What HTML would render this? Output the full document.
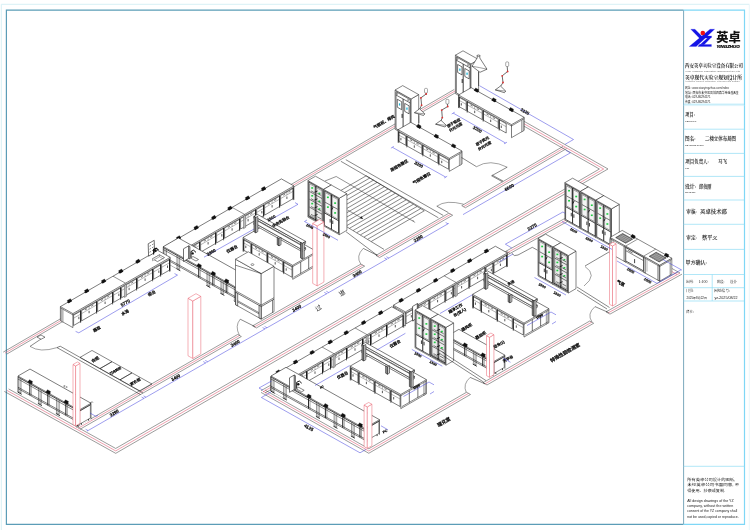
<!DOCTYPE html>
<html><head><meta charset="utf-8"><title>二楼立体布局图</title>
<style>
html,body{margin:0;padding:0;background:#fff;}
body{width:750px;height:530px;overflow:hidden;position:relative;font-family:"Liberation Sans","Noto Sans CJK SC",sans-serif;}
svg{position:absolute;left:0;top:0;display:block;will-change:transform;}
text{white-space:pre;}
</style></head><body>
<svg width="750" height="530" viewBox="0 0 750 530">
<rect x="0" y="0" width="750" height="530" fill="#fff"/>
<line x1="1.3" y1="4.3" x2="749.3" y2="4.3" stroke="#d3eef4" stroke-width="0.9"/>
<line x1="1.3" y1="4.3" x2="1.3" y2="530" stroke="#d3eef4" stroke-width="0.9"/>
<line x1="749.3" y1="4.3" x2="749.3" y2="530" stroke="#e6f5f9" stroke-width="0.9"/>
<polyline points="683.6,10.1 6.4,10.1 6.4,524.3 683.6,524.3" fill="none" stroke="#5b9db7" stroke-width="1.2"/>
<line x1="683.6" y1="10.1" x2="683.6" y2="524.3" stroke="#6d9fb5" stroke-width="0.9"/>
<polyline points="683.6,10.1 744.5,10.1 744.5,524.3 683.6,524.3" fill="none" stroke="#7fd7f6" stroke-width="1.2"/>
<polyline points="3.25,352.14 454.25,89.43" fill="none" stroke="#4a4a4a" stroke-width="0.55"/>
<polyline points="5,353.12 456,90.41" fill="none" stroke="#e0506a" stroke-width="0.55"/>
<polyline points="6.75,354.1 457.75,91.39" fill="none" stroke="#4a4a4a" stroke-width="0.55"/>
<polyline points="76.15,427.31 237.65,334.44" fill="none" stroke="#4a4a4a" stroke-width="0.55"/>
<polyline points="78,428.35 239.5,335.47" fill="none" stroke="#e0506a" stroke-width="0.55"/>
<polyline points="79.85,429.39 241.35,336.51" fill="none" stroke="#4a4a4a" stroke-width="0.55"/>
<line x1="237.65" y1="334.44" x2="241.35" y2="336.51" stroke="#4a4a4a" stroke-width="0.55"/>
<polyline points="252.65,325.88 360.95,264.07" fill="none" stroke="#4a4a4a" stroke-width="0.55"/>
<polyline points="254.5,326.91 362.8,265.11" fill="none" stroke="#e0506a" stroke-width="0.55"/>
<polyline points="256.35,327.95 364.65,266.15" fill="none" stroke="#4a4a4a" stroke-width="0.55"/>
<line x1="252.65" y1="325.88" x2="256.35" y2="327.95" stroke="#4a4a4a" stroke-width="0.55"/>
<line x1="360.95" y1="264.07" x2="364.65" y2="266.15" stroke="#4a4a4a" stroke-width="0.55"/>
<polyline points="375.95,255.4 448.95,213.16" fill="none" stroke="#4a4a4a" stroke-width="0.55"/>
<polyline points="377.8,256.43 450.8,214.2" fill="none" stroke="#e0506a" stroke-width="0.55"/>
<polyline points="379.65,257.47 452.65,215.24" fill="none" stroke="#4a4a4a" stroke-width="0.55"/>
<line x1="375.95" y1="255.4" x2="379.65" y2="257.47" stroke="#4a4a4a" stroke-width="0.55"/>
<line x1="448.95" y1="213.16" x2="452.65" y2="215.24" stroke="#4a4a4a" stroke-width="0.55"/>
<polyline points="461.75,205.67 562.95,146.46" fill="none" stroke="#4a4a4a" stroke-width="0.55"/>
<polyline points="463.6,206.71 564.8,147.5" fill="none" stroke="#e0506a" stroke-width="0.55"/>
<polyline points="465.45,207.75 566.65,148.54" fill="none" stroke="#4a4a4a" stroke-width="0.55"/>
<line x1="461.75" y1="205.67" x2="465.45" y2="207.75" stroke="#4a4a4a" stroke-width="0.55"/>
<polyline points="8.65,388.94 115.69,448.46 599.41,169.03 502.85,114.18" fill="none" stroke="#4a4a4a" stroke-width="0.55"/>
<polyline points="6.5,390.18 115.7,450.9 603.7,169 505,112.94" fill="none" stroke="#e0506a" stroke-width="0.55"/>
<polyline points="4.35,391.43 115.71,453.34 607.99,168.97 507.15,111.7" fill="none" stroke="#4a4a4a" stroke-width="0.55"/>
<polyline points="265,390.07 368.81,448.72 466.5,392.25" fill="none" stroke="#4a4a4a" stroke-width="0.55"/>
<polyline points="263,391.22 368.8,451 468.5,393.37" fill="none" stroke="#e0506a" stroke-width="0.55"/>
<polyline points="261,392.38 368.79,453.28 470.5,394.49" fill="none" stroke="#4a4a4a" stroke-width="0.55"/>
<line x1="466.5" y1="392.25" x2="470.5" y2="394.49" stroke="#4a4a4a" stroke-width="0.55"/>
<polyline points="483,382.72 589.7,321.04" fill="none" stroke="#4a4a4a" stroke-width="0.55"/>
<polyline points="485,383.84 591.7,322.16" fill="none" stroke="#e0506a" stroke-width="0.55"/>
<polyline points="487,384.96 593.7,323.28" fill="none" stroke="#4a4a4a" stroke-width="0.55"/>
<line x1="483" y1="382.72" x2="487" y2="384.96" stroke="#4a4a4a" stroke-width="0.55"/>
<line x1="589.7" y1="321.04" x2="593.7" y2="323.28" stroke="#4a4a4a" stroke-width="0.55"/>
<polyline points="606,311.88 678,271.88" fill="none" stroke="#4a4a4a" stroke-width="0.55"/>
<polyline points="608,313 680,273" fill="none" stroke="#e0506a" stroke-width="0.55"/>
<polyline points="610,314.12 682,274.12" fill="none" stroke="#4a4a4a" stroke-width="0.55"/>
<line x1="606" y1="311.88" x2="610" y2="314.12" stroke="#4a4a4a" stroke-width="0.55"/>
<line x1="683.6" y1="104.2" x2="744.5" y2="104.2" stroke="#8fdcf5" stroke-width="0.7"/>
<line x1="683.6" y1="129.2" x2="744.5" y2="129.2" stroke="#8fdcf5" stroke-width="0.7"/>
<line x1="683.6" y1="153.4" x2="744.5" y2="153.4" stroke="#8fdcf5" stroke-width="0.7"/>
<line x1="683.6" y1="176.4" x2="744.5" y2="176.4" stroke="#8fdcf5" stroke-width="0.7"/>
<line x1="683.6" y1="200" x2="744.5" y2="200" stroke="#8fdcf5" stroke-width="0.7"/>
<line x1="683.6" y1="224.3" x2="744.5" y2="224.3" stroke="#8fdcf5" stroke-width="0.7"/>
<line x1="683.6" y1="249.4" x2="744.5" y2="249.4" stroke="#8fdcf5" stroke-width="0.7"/>
<line x1="683.6" y1="274.5" x2="744.5" y2="274.5" stroke="#8fdcf5" stroke-width="0.7"/>
<line x1="683.6" y1="287.7" x2="744.5" y2="287.7" stroke="#8fdcf5" stroke-width="0.7"/>
<line x1="683.6" y1="301" x2="744.5" y2="301" stroke="#8fdcf5" stroke-width="0.7"/>
<line x1="683.6" y1="466.3" x2="744.5" y2="466.3" stroke="#8fdcf5" stroke-width="0.7"/>
<line x1="683.6" y1="105.6" x2="744.5" y2="105.6" stroke="#c5ecf8" stroke-width="0.6"/>
<line x1="712.2" y1="274.5" x2="712.2" y2="301" stroke="#8fdcf5" stroke-width="0.7"/>
<polygon points="690.8,29.2 694.96,29.2 702.4,36.64 700.24,39.04" fill="#1414e6" stroke="#1414e6" stroke-width="0.2"/>
<polygon points="710,29.2 714.64,29.2 696.24,46.56 689.2,46.56" fill="#1414e6" stroke="#1414e6" stroke-width="0.2"/>
<polygon points="704.24,36 711.44,36 710,38.08 702.96,38.08" fill="#1414e6" stroke="#1414e6" stroke-width="0.2"/>
<polygon points="707.44,38.08 711.44,36 711.44,37.2 704,44.8 700,44.8" fill="#1414e6" stroke="#1414e6" stroke-width="0.2"/>
<polygon points="699.44,44.48 711.44,44.48 711.44,46.56 697.84,46.56" fill="#1414e6" stroke="#1414e6" stroke-width="0.2"/>
<circle cx="702.8" cy="33" r="2.3" fill="#f01010"/>
<text x="716.2" y="42.2" font-size="12.2" fill="#111" text-anchor="start" font-weight="900" font-family="&quot;Liberation Sans&quot;,&quot;Noto Sans CJK SC&quot;,sans-serif" textLength="24.4" lengthAdjust="spacingAndGlyphs">英卓</text>
<text x="716.4" y="47.7" font-size="3.7" fill="#000" text-anchor="start" font-weight="bold" font-family="&quot;Liberation Sans&quot;,&quot;Noto Sans CJK SC&quot;,sans-serif" font-style="italic" textLength="23.2" lengthAdjust="spacingAndGlyphs" stroke="#000" stroke-width="0.2">YINGZHUO</text>
<text x="685" y="67.2" font-size="4.5" fill="#222" text-anchor="start" font-weight="bold" font-family="&quot;Liberation Serif&quot;,&quot;Noto Serif CJK SC&quot;,serif" textLength="58" lengthAdjust="spacingAndGlyphs">西安英卓实验室设备有限公司</text>
<text x="685" y="71.5" font-size="2.5" fill="#666" text-anchor="start" font-weight="normal" font-family="&quot;Liberation Sans&quot;,&quot;Noto Sans CJK SC&quot;,sans-serif" textLength="55" lengthAdjust="spacingAndGlyphs">Xi'an Yingzhuo Laboratory Equipment Co.,Ltd</text>
<text x="685" y="78.8" font-size="4.6" fill="#222" text-anchor="start" font-weight="bold" font-family="&quot;Liberation Serif&quot;,&quot;Noto Serif CJK SC&quot;,serif" textLength="57" lengthAdjust="spacingAndGlyphs">英卓现代实验室规划设计所</text>
<text x="685" y="82.2" font-size="2.4" fill="#777" text-anchor="start" font-weight="normal" font-family="&quot;Liberation Sans&quot;,&quot;Noto Sans CJK SC&quot;,sans-serif" textLength="54.5" lengthAdjust="spacingAndGlyphs">Yingzhuo Modern Laboratory Planning and Design</text>
<text x="685" y="89.2" font-size="2.9" fill="#333" text-anchor="start" font-weight="normal" font-family="&quot;Liberation Sans&quot;,&quot;Noto Sans CJK SC&quot;,sans-serif" textLength="44" lengthAdjust="spacingAndGlyphs">网址: www.xianyingzhuo.com/index</text>
<text x="685" y="93.6" font-size="2.9" fill="#222" text-anchor="start" font-weight="normal" font-family="&quot;Liberation Sans&quot;,&quot;Noto Sans CJK SC&quot;,sans-serif" textLength="53.5" lengthAdjust="spacingAndGlyphs">地址: 西安市未央区凤城四路华帝金座A座</text>
<text x="685" y="97.8" font-size="2.9" fill="#222" text-anchor="start" font-weight="normal" font-family="&quot;Liberation Sans&quot;,&quot;Noto Sans CJK SC&quot;,sans-serif" textLength="25.5" lengthAdjust="spacingAndGlyphs">电话: 029-86294571</text>
<text x="685" y="102.6" font-size="2.9" fill="#222" text-anchor="start" font-weight="normal" font-family="&quot;Liberation Sans&quot;,&quot;Noto Sans CJK SC&quot;,sans-serif" textLength="25.5" lengthAdjust="spacingAndGlyphs">传真: 029-86294571</text>
<text x="685.3" y="115.6" font-size="4.6" fill="#222" text-anchor="start" font-weight="500" font-family="&quot;Liberation Serif&quot;,&quot;Noto Serif CJK SC&quot;,serif" textLength="9.5" lengthAdjust="spacingAndGlyphs" stroke="#222" stroke-width="0.08">项目:</text>
<text x="685.3" y="121.6" font-size="2.6" fill="#222" text-anchor="start" font-weight="bold" font-family="&quot;Liberation Serif&quot;,&quot;Noto Serif CJK SC&quot;,serif" textLength="11" lengthAdjust="spacingAndGlyphs">PROJECT</text>
<text x="685" y="140" font-size="4.8" fill="#222" text-anchor="start" font-weight="500" font-family="&quot;Liberation Serif&quot;,&quot;Noto Serif CJK SC&quot;,serif" textLength="10.5" lengthAdjust="spacingAndGlyphs" stroke="#222" stroke-width="0.08">图名:</text>
<text x="705" y="140" font-size="4.4" fill="#222" text-anchor="start" font-weight="500" font-family="&quot;Liberation Serif&quot;,&quot;Noto Serif CJK SC&quot;,serif" textLength="31" lengthAdjust="spacingAndGlyphs" stroke="#222" stroke-width="0.08">二楼立体布局图</text>
<text x="685" y="145.8" font-size="2.6" fill="#222" text-anchor="start" font-weight="bold" font-family="&quot;Liberation Serif&quot;,&quot;Noto Serif CJK SC&quot;,serif" textLength="19" lengthAdjust="spacingAndGlyphs">DRAWING TITLE</text>
<text x="685.3" y="162.6" font-size="4.6" fill="#222" text-anchor="start" font-weight="500" font-family="&quot;Liberation Serif&quot;,&quot;Noto Serif CJK SC&quot;,serif" textLength="23.5" lengthAdjust="spacingAndGlyphs" stroke="#222" stroke-width="0.08">项目负责人:</text>
<text x="718" y="162.6" font-size="4.6" fill="#222" text-anchor="start" font-weight="500" font-family="&quot;Liberation Serif&quot;,&quot;Noto Serif CJK SC&quot;,serif" textLength="9" lengthAdjust="spacingAndGlyphs" stroke="#222" stroke-width="0.08">马飞</text>
<text x="685.3" y="168.6" font-size="2.6" fill="#222" text-anchor="start" font-weight="bold" font-family="&quot;Liberation Serif&quot;,&quot;Noto Serif CJK SC&quot;,serif" textLength="3.5" lengthAdjust="spacingAndGlyphs">PM</text>
<text x="685" y="187.5" font-size="4.8" fill="#222" text-anchor="start" font-weight="500" font-family="&quot;Liberation Serif&quot;,&quot;Noto Serif CJK SC&quot;,serif" textLength="11" lengthAdjust="spacingAndGlyphs" stroke="#222" stroke-width="0.08">设计:</text>
<text x="699" y="187.5" font-size="4.4" fill="#222" text-anchor="start" font-weight="500" font-family="&quot;Liberation Serif&quot;,&quot;Noto Serif CJK SC&quot;,serif" textLength="12.5" lengthAdjust="spacingAndGlyphs" stroke="#222" stroke-width="0.08">郎俊丽</text>
<text x="685.3" y="193.4" font-size="2.6" fill="#222" text-anchor="start" font-weight="bold" font-family="&quot;Liberation Serif&quot;,&quot;Noto Serif CJK SC&quot;,serif" textLength="10" lengthAdjust="spacingAndGlyphs">DESIGN</text>
<text x="686.3" y="213.2" font-size="4.3" fill="#222" text-anchor="start" font-weight="500" font-family="&quot;Liberation Serif&quot;,&quot;Noto Serif CJK SC&quot;,serif" textLength="10.5" lengthAdjust="spacingAndGlyphs" stroke="#222" stroke-width="0.08">审核:</text>
<text x="700" y="213.2" font-size="4.3" fill="#222" text-anchor="start" font-weight="500" font-family="&quot;Liberation Serif&quot;,&quot;Noto Serif CJK SC&quot;,serif" textLength="27" lengthAdjust="spacingAndGlyphs" stroke="#222" stroke-width="0.08">英卓技术部</text>
<text x="686.3" y="239.4" font-size="4.3" fill="#222" text-anchor="start" font-weight="500" font-family="&quot;Liberation Serif&quot;,&quot;Noto Serif CJK SC&quot;,serif" textLength="10.5" lengthAdjust="spacingAndGlyphs" stroke="#222" stroke-width="0.08">审定:</text>
<text x="702" y="239.4" font-size="4.3" fill="#222" text-anchor="start" font-weight="500" font-family="&quot;Liberation Serif&quot;,&quot;Noto Serif CJK SC&quot;,serif" textLength="15.5" lengthAdjust="spacingAndGlyphs" stroke="#222" stroke-width="0.08">蔡平义</text>
<text x="685.5" y="263.6" font-size="4.4" fill="#222" text-anchor="start" font-weight="500" font-family="&quot;Liberation Serif&quot;,&quot;Noto Serif CJK SC&quot;,serif" textLength="21.5" lengthAdjust="spacingAndGlyphs" stroke="#222" stroke-width="0.08">甲方确认:</text>
<text x="686" y="283" font-size="3.4" fill="#222" text-anchor="start" font-weight="500" font-family="&quot;Liberation Serif&quot;,&quot;Noto Serif CJK SC&quot;,serif" textLength="7.5" lengthAdjust="spacingAndGlyphs">比例:</text>
<text x="698.5" y="283" font-size="3.2" fill="#222" text-anchor="start" font-weight="normal" font-family="&quot;Liberation Serif&quot;,&quot;Noto Serif CJK SC&quot;,serif" textLength="9" lengthAdjust="spacingAndGlyphs">1:100</text>
<text x="717" y="283" font-size="3.4" fill="#222" text-anchor="start" font-weight="500" font-family="&quot;Liberation Serif&quot;,&quot;Noto Serif CJK SC&quot;,serif" textLength="7.5" lengthAdjust="spacingAndGlyphs">阶段:</text>
<text x="730" y="283" font-size="3.4" fill="#222" text-anchor="start" font-weight="500" font-family="&quot;Liberation Serif&quot;,&quot;Noto Serif CJK SC&quot;,serif" textLength="7" lengthAdjust="spacingAndGlyphs">设计</text>
<text x="686" y="292.4" font-size="3.4" fill="#222" text-anchor="start" font-weight="500" font-family="&quot;Liberation Serif&quot;,&quot;Noto Serif CJK SC&quot;,serif" textLength="7.5" lengthAdjust="spacingAndGlyphs">日期:</text>
<text x="714" y="292.4" font-size="3.4" fill="#222" text-anchor="start" font-weight="500" font-family="&quot;Liberation Serif&quot;,&quot;Noto Serif CJK SC&quot;,serif" textLength="16" lengthAdjust="spacingAndGlyphs">图纸编号:</text>
<text x="686.5" y="298.6" font-size="2.7" fill="#222" text-anchor="start" font-weight="normal" font-family="&quot;Liberation Sans&quot;,&quot;Noto Sans CJK SC&quot;,sans-serif" textLength="20.5" lengthAdjust="spacingAndGlyphs">2025年8月22日</text>
<text x="714.5" y="298.6" font-size="2.7" fill="#222" text-anchor="start" font-weight="normal" font-family="&quot;Liberation Sans&quot;,&quot;Noto Sans CJK SC&quot;,sans-serif" textLength="23" lengthAdjust="spacingAndGlyphs">yz-2025/08/22</text>
<text x="686" y="312.6" font-size="3.4" fill="#222" text-anchor="start" font-weight="500" font-family="&quot;Liberation Serif&quot;,&quot;Noto Serif CJK SC&quot;,serif" textLength="8" lengthAdjust="spacingAndGlyphs">备注:</text>
<text x="687.2" y="480.8" font-size="3.9" fill="#222" text-anchor="start" font-weight="normal" font-family="&quot;Liberation Sans&quot;,&quot;Noto Sans CJK SC&quot;,sans-serif" textLength="48" lengthAdjust="spacingAndGlyphs">所有英卓公司设计的图纸,</text>
<text x="687.2" y="486.4" font-size="3.9" fill="#222" text-anchor="start" font-weight="normal" font-family="&quot;Liberation Sans&quot;,&quot;Noto Sans CJK SC&quot;,sans-serif" textLength="52" lengthAdjust="spacingAndGlyphs">未经英卓公司书面同意, 不</text>
<text x="687.2" y="492" font-size="3.9" fill="#222" text-anchor="start" font-weight="normal" font-family="&quot;Liberation Sans&quot;,&quot;Noto Sans CJK SC&quot;,sans-serif" textLength="38" lengthAdjust="spacingAndGlyphs">得使用、抄袭或复制.</text>
<text x="687.2" y="501.6" font-size="3.5" fill="#222" text-anchor="start" font-weight="normal" font-family="&quot;Liberation Sans&quot;,&quot;Noto Sans CJK SC&quot;,sans-serif" textLength="46.5" lengthAdjust="spacingAndGlyphs">All design drawings of the YZ</text>
<text x="687.2" y="506.9" font-size="3.5" fill="#222" text-anchor="start" font-weight="normal" font-family="&quot;Liberation Sans&quot;,&quot;Noto Sans CJK SC&quot;,sans-serif" textLength="46" lengthAdjust="spacingAndGlyphs">company, without the written</text>
<text x="687.2" y="512.2" font-size="3.5" fill="#222" text-anchor="start" font-weight="normal" font-family="&quot;Liberation Sans&quot;,&quot;Noto Sans CJK SC&quot;,sans-serif" textLength="50" lengthAdjust="spacingAndGlyphs">consent of the YZ company shall</text>
<text x="687.2" y="517.5" font-size="3.5" fill="#222" text-anchor="start" font-weight="normal" font-family="&quot;Liberation Sans&quot;,&quot;Noto Sans CJK SC&quot;,sans-serif" textLength="51.5" lengthAdjust="spacingAndGlyphs">not be used,copied or reproduce.</text>
<line x1="366.2" y1="175.8" x2="313.2" y2="206.43" stroke="#111" stroke-width="0.5"/>
<line x1="369.83" y1="177.99" x2="316.83" y2="208.62" stroke="#111" stroke-width="0.5"/>
<line x1="373.46" y1="180.18" x2="320.46" y2="210.81" stroke="#111" stroke-width="0.5"/>
<line x1="377.09" y1="182.36" x2="324.09" y2="213" stroke="#111" stroke-width="0.5"/>
<line x1="380.73" y1="184.55" x2="327.73" y2="215.18" stroke="#111" stroke-width="0.5"/>
<line x1="384.36" y1="186.74" x2="331.36" y2="217.37" stroke="#111" stroke-width="0.5"/>
<line x1="387.99" y1="188.93" x2="334.99" y2="219.56" stroke="#111" stroke-width="0.5"/>
<line x1="391.62" y1="191.11" x2="338.62" y2="221.75" stroke="#111" stroke-width="0.5"/>
<line x1="395.25" y1="193.3" x2="342.25" y2="223.93" stroke="#111" stroke-width="0.5"/>
<line x1="398.88" y1="195.49" x2="345.88" y2="226.12" stroke="#111" stroke-width="0.5"/>
<line x1="402.51" y1="197.68" x2="349.51" y2="228.31" stroke="#111" stroke-width="0.5"/>
<line x1="406.14" y1="199.86" x2="353.14" y2="230.5" stroke="#111" stroke-width="0.5"/>
<line x1="409.77" y1="202.05" x2="356.77" y2="232.68" stroke="#111" stroke-width="0.5"/>
<line x1="413.41" y1="204.24" x2="360.41" y2="234.87" stroke="#111" stroke-width="0.5"/>
<line x1="417.04" y1="206.43" x2="364.04" y2="237.06" stroke="#111" stroke-width="0.5"/>
<line x1="420.67" y1="208.61" x2="367.67" y2="239.25" stroke="#111" stroke-width="0.5"/>
<line x1="424.3" y1="210.8" x2="371.3" y2="241.43" stroke="#111" stroke-width="0.5"/>
<line x1="366.2" y1="175.8" x2="424.3" y2="210.8" stroke="#111" stroke-width="0.5"/>
<line x1="313.2" y1="206.43" x2="384" y2="249.4" stroke="#111" stroke-width="0.5"/>
<line x1="340.9" y1="161.3" x2="438.4" y2="217.8" stroke="#111" stroke-width="0.5"/>
<line x1="345.8" y1="159.7" x2="443.2" y2="215.4" stroke="#111" stroke-width="0.5"/>
<line x1="325" y1="181" x2="336.2" y2="176.5" stroke="#111" stroke-width="0.45"/>
<line x1="336.2" y1="176.5" x2="413.6" y2="221.5" stroke="#111" stroke-width="0.45"/>
<line x1="412.6" y1="220" x2="414.8" y2="222.6" stroke="#111" stroke-width="0.5"/>
<line x1="347.5" y1="210" x2="362.7" y2="218.6" stroke="#111" stroke-width="0.45"/>
<polygon points="362.7,218.6 360.3,218.3 361.3,216.6" fill="#111" stroke="#111" stroke-width="0.4"/>
<line x1="346" y1="231.7" x2="377.3" y2="255.4" stroke="#111" stroke-width="0.5"/>
<line x1="377.3" y1="255.4" x2="363.3" y2="248.4" stroke="#111" stroke-width="0.5"/>
<path d="M363.3,248.4 Q355.5,256 360.8,264.2" fill="none" stroke="#444" stroke-width="0.5"/>
<line x1="448.4" y1="212.6" x2="436.8" y2="206.2" stroke="#111" stroke-width="0.5"/>
<path d="M436.8,206.2 Q446,199.5 463.6,204.2" fill="none" stroke="#444" stroke-width="0.5"/>
<line x1="57" y1="347.6" x2="140.5" y2="394.6" stroke="#111" stroke-width="0.5"/>
<line x1="60.2" y1="346.2" x2="143" y2="393" stroke="#111" stroke-width="0.5"/>
<line x1="57" y1="347.6" x2="60.2" y2="346.2" stroke="#111" stroke-width="0.5"/>
<line x1="41" y1="339" x2="30" y2="346.4" stroke="#111" stroke-width="0.5"/>
<polygon points="37,337 41,335 45,337.2 41,339.3" fill="none" stroke="#111" stroke-width="0.5"/>
<path d="M30,346.4 Q40,353 57,347.6" fill="none" stroke="#444" stroke-width="0.5"/>
<polygon points="80,357.4 92,350.46 112,361.66 100,368.6" fill="none" stroke="#111" stroke-width="0.5"/>
<polygon points="100,368.6 112,361.66 132,372.86 120,379.8" fill="none" stroke="#111" stroke-width="0.5"/>
<polygon points="120,379.8 132,372.86 152,384.06 140,391" fill="none" stroke="#111" stroke-width="0.5"/>
<text x="96" y="360.67" font-size="4" fill="#000" text-anchor="middle" font-weight="bold" font-family="&quot;Liberation Sans&quot;,&quot;Noto Sans CJK SC&quot;,sans-serif" transform="rotate(-30.03 96 360.67)" stroke="#000" stroke-width="0.18">衣柜</text>
<text x="116" y="371.87" font-size="3.2" fill="#000" text-anchor="middle" font-weight="bold" font-family="&quot;Liberation Sans&quot;,&quot;Noto Sans CJK SC&quot;,sans-serif" transform="rotate(-30.03 116 371.87)" stroke="#000" stroke-width="0.18">万向轮柜</text>
<text x="136" y="383.07" font-size="3.8" fill="#000" text-anchor="middle" font-weight="bold" font-family="&quot;Liberation Sans&quot;,&quot;Noto Sans CJK SC&quot;,sans-serif" transform="rotate(-30.03 136 383.07)" stroke="#000" stroke-width="0.18">更衣柜</text>
<polygon points="163.4,261.1 175.9,268.1 293.9,199.9 293.9,185.9 281.4,178.9 163.4,247.1" fill="#fff" stroke="none" stroke-width="0"/>
<polygon points="163.4,247.1 175.9,254.1 293.9,185.9 281.4,178.9" fill="none" stroke="#111" stroke-width="0.55"/>
<line x1="163.4" y1="261.1" x2="163.4" y2="247.1" stroke="#111" stroke-width="0.55"/>
<line x1="175.9" y1="268.1" x2="175.9" y2="254.1" stroke="#111" stroke-width="0.55"/>
<line x1="293.9" y1="199.9" x2="293.9" y2="185.9" stroke="#111" stroke-width="0.55"/>
<line x1="163.4" y1="261.1" x2="175.9" y2="268.1" stroke="#111" stroke-width="0.5"/>
<line x1="175.9" y1="255.4" x2="293.9" y2="187.2" stroke="#111" stroke-width="0.5"/>
<line x1="163.4" y1="248.4" x2="175.9" y2="255.4" stroke="#111" stroke-width="0.5"/>
<polygon points="176.6,266 183.6,261.95 183.6,251.65 176.6,255.7" fill="none" stroke="#111" stroke-width="0.55"/>
<line x1="176.6" y1="258.7" x2="183.6" y2="254.65" stroke="#444" stroke-width="0.4"/>
<line x1="181.85" y1="257.26" x2="181.85" y2="259.66" stroke="#111" stroke-width="0.7"/>
<line x1="183.6" y1="262.15" x2="183.6" y2="251.05" stroke="#111" stroke-width="0.9"/>
<line x1="183.6" y1="261.95" x2="183.6" y2="263.45" stroke="#111" stroke-width="0.6"/>
<polygon points="184.6,261.37 199.6,252.7 199.6,242.4 184.6,251.07" fill="none" stroke="#111" stroke-width="0.55"/>
<line x1="184.6" y1="254.07" x2="199.6" y2="245.4" stroke="#444" stroke-width="0.4"/>
<line x1="192.1" y1="251.34" x2="192.1" y2="253.74" stroke="#111" stroke-width="0.7"/>
<line x1="187.9" y1="250.46" x2="190" y2="249.25" stroke="#111" stroke-width="0.55"/>
<line x1="194.2" y1="246.82" x2="196.3" y2="245.61" stroke="#111" stroke-width="0.55"/>
<line x1="192.1" y1="246.74" x2="192.1" y2="249.74" stroke="#444" stroke-width="0.4"/>
<line x1="199.6" y1="252.9" x2="199.6" y2="241.8" stroke="#111" stroke-width="0.9"/>
<line x1="199.6" y1="252.7" x2="199.6" y2="254.2" stroke="#111" stroke-width="0.6"/>
<polygon points="200.6,252.12 215.6,243.45 215.6,233.15 200.6,241.82" fill="none" stroke="#111" stroke-width="0.55"/>
<line x1="200.6" y1="244.82" x2="215.6" y2="236.15" stroke="#444" stroke-width="0.4"/>
<line x1="208.1" y1="242.09" x2="208.1" y2="244.49" stroke="#111" stroke-width="0.7"/>
<line x1="203.9" y1="241.22" x2="206" y2="240" stroke="#111" stroke-width="0.55"/>
<line x1="210.2" y1="237.57" x2="212.3" y2="236.36" stroke="#111" stroke-width="0.55"/>
<line x1="208.1" y1="237.49" x2="208.1" y2="240.49" stroke="#444" stroke-width="0.4"/>
<line x1="215.6" y1="243.65" x2="215.6" y2="232.55" stroke="#111" stroke-width="0.9"/>
<line x1="215.6" y1="243.45" x2="215.6" y2="244.95" stroke="#111" stroke-width="0.6"/>
<polygon points="216.6,242.88 223.6,238.83 223.6,228.53 216.6,232.58" fill="none" stroke="#111" stroke-width="0.55"/>
<line x1="216.6" y1="235.58" x2="223.6" y2="231.53" stroke="#444" stroke-width="0.4"/>
<line x1="221.85" y1="234.14" x2="221.85" y2="236.54" stroke="#111" stroke-width="0.7"/>
<line x1="223.6" y1="239.03" x2="223.6" y2="227.93" stroke="#111" stroke-width="0.9"/>
<line x1="223.6" y1="238.83" x2="223.6" y2="240.33" stroke="#111" stroke-width="0.6"/>
<polygon points="224.6,238.25 239.6,229.58 239.6,219.28 224.6,227.95" fill="none" stroke="#111" stroke-width="0.55"/>
<line x1="224.6" y1="230.95" x2="239.6" y2="222.28" stroke="#444" stroke-width="0.4"/>
<line x1="232.1" y1="228.22" x2="232.1" y2="230.62" stroke="#111" stroke-width="0.7"/>
<line x1="227.9" y1="227.34" x2="230" y2="226.13" stroke="#111" stroke-width="0.55"/>
<line x1="234.2" y1="223.7" x2="236.3" y2="222.49" stroke="#111" stroke-width="0.55"/>
<line x1="232.1" y1="223.62" x2="232.1" y2="226.62" stroke="#444" stroke-width="0.4"/>
<line x1="239.6" y1="229.78" x2="239.6" y2="218.68" stroke="#111" stroke-width="0.9"/>
<line x1="239.6" y1="229.58" x2="239.6" y2="231.08" stroke="#111" stroke-width="0.6"/>
<polygon points="240.6,229 255.6,220.33 255.6,210.03 240.6,218.7" fill="none" stroke="#111" stroke-width="0.55"/>
<line x1="240.6" y1="221.7" x2="255.6" y2="213.03" stroke="#444" stroke-width="0.4"/>
<line x1="248.1" y1="218.97" x2="248.1" y2="221.37" stroke="#111" stroke-width="0.7"/>
<line x1="243.9" y1="218.1" x2="246" y2="216.88" stroke="#111" stroke-width="0.55"/>
<line x1="250.2" y1="214.45" x2="252.3" y2="213.24" stroke="#111" stroke-width="0.55"/>
<line x1="248.1" y1="214.37" x2="248.1" y2="217.37" stroke="#444" stroke-width="0.4"/>
<line x1="255.6" y1="220.53" x2="255.6" y2="209.43" stroke="#111" stroke-width="0.9"/>
<line x1="255.6" y1="220.33" x2="255.6" y2="221.83" stroke="#111" stroke-width="0.6"/>
<polygon points="256.6,219.76 263.6,215.71 263.6,205.41 256.6,209.46" fill="none" stroke="#111" stroke-width="0.55"/>
<line x1="256.6" y1="212.46" x2="263.6" y2="208.41" stroke="#444" stroke-width="0.4"/>
<line x1="261.85" y1="211.02" x2="261.85" y2="213.42" stroke="#111" stroke-width="0.7"/>
<line x1="263.6" y1="215.91" x2="263.6" y2="204.81" stroke="#111" stroke-width="0.9"/>
<line x1="263.6" y1="215.71" x2="263.6" y2="217.21" stroke="#111" stroke-width="0.6"/>
<polygon points="264.6,215.13 279.6,206.46 279.6,196.16 264.6,204.83" fill="none" stroke="#111" stroke-width="0.55"/>
<line x1="264.6" y1="207.83" x2="279.6" y2="199.16" stroke="#444" stroke-width="0.4"/>
<line x1="272.1" y1="205.1" x2="272.1" y2="207.5" stroke="#111" stroke-width="0.7"/>
<line x1="267.9" y1="204.22" x2="270" y2="203.01" stroke="#111" stroke-width="0.55"/>
<line x1="274.2" y1="200.58" x2="276.3" y2="199.37" stroke="#111" stroke-width="0.55"/>
<line x1="272.1" y1="200.5" x2="272.1" y2="203.5" stroke="#444" stroke-width="0.4"/>
<line x1="279.6" y1="206.66" x2="279.6" y2="195.56" stroke="#111" stroke-width="0.9"/>
<line x1="279.6" y1="206.46" x2="279.6" y2="207.96" stroke="#111" stroke-width="0.6"/>
<polygon points="280.6,205.88 293.2,198.6 293.2,188.3 280.6,195.58" fill="none" stroke="#111" stroke-width="0.55"/>
<line x1="280.6" y1="198.58" x2="293.2" y2="191.3" stroke="#444" stroke-width="0.4"/>
<line x1="286.9" y1="196.54" x2="286.9" y2="198.94" stroke="#111" stroke-width="0.7"/>
<line x1="283.37" y1="195.28" x2="285.14" y2="194.26" stroke="#111" stroke-width="0.55"/>
<line x1="288.66" y1="192.22" x2="290.43" y2="191.2" stroke="#111" stroke-width="0.55"/>
<line x1="286.9" y1="191.94" x2="286.9" y2="194.94" stroke="#444" stroke-width="0.4"/>
<line x1="293.2" y1="198.8" x2="293.2" y2="187.7" stroke="#111" stroke-width="0.9"/>
<line x1="293.2" y1="198.6" x2="293.2" y2="200.1" stroke="#111" stroke-width="0.6"/>
<polygon points="164.2,261.55 164.2,248.85 166,249.86 166,262.56" fill="#ddd" stroke="#444" stroke-width="0.45"/>
<line x1="232.1" y1="207.39" x2="244.6" y2="214.39" stroke="#111" stroke-width="0.45"/>
<polygon points="243.5,228.73 245.7,227.46 245.7,215.06 243.5,216.33" fill="#bbb" stroke="#444" stroke-width="0.4"/>
<polygon points="176.3,239.07 179.5,237.23 180.9,238.01 177.7,239.86" fill="#111" stroke="#111" stroke-width="0.3"/>
<polygon points="176.3,237.47 179.5,235.63 180.9,238.01 177.7,239.86" fill="#111" stroke="#111" stroke-width="0.3"/>
<polygon points="193.9,228.9 197.1,227.05 198.5,227.84 195.3,229.69" fill="#111" stroke="#111" stroke-width="0.3"/>
<polygon points="193.9,227.3 197.1,225.45 198.5,227.84 195.3,229.69" fill="#111" stroke="#111" stroke-width="0.3"/>
<polygon points="211.5,218.73 214.7,216.88 216.1,217.66 212.9,219.51" fill="#111" stroke="#111" stroke-width="0.3"/>
<polygon points="211.5,217.13 214.7,215.28 216.1,217.66 212.9,219.51" fill="#111" stroke="#111" stroke-width="0.3"/>
<polygon points="227.6,209.42 230.8,207.57 232.2,208.36 229,210.21" fill="#111" stroke="#111" stroke-width="0.3"/>
<polygon points="227.6,207.82 230.8,205.97 232.2,208.36 229,210.21" fill="#111" stroke="#111" stroke-width="0.3"/>
<polygon points="245.2,199.25 248.4,197.4 249.8,198.19 246.6,200.03" fill="#111" stroke="#111" stroke-width="0.3"/>
<polygon points="245.2,197.65 248.4,195.8 249.8,198.19 246.6,200.03" fill="#111" stroke="#111" stroke-width="0.3"/>
<polygon points="261.3,189.94 264.5,188.1 265.9,188.88 262.7,190.73" fill="#111" stroke="#111" stroke-width="0.3"/>
<polygon points="261.3,188.34 264.5,186.5 265.9,188.88 262.7,190.73" fill="#111" stroke="#111" stroke-width="0.3"/>
<polygon points="163.4,261.1 238.4,303.1 253.4,294.43 253.4,279.93 178.4,237.93 163.4,246.6" fill="#fff" stroke="none" stroke-width="0"/>
<polygon points="163.4,246.6 238.4,288.6 253.4,279.93 178.4,237.93" fill="none" stroke="#111" stroke-width="0.55"/>
<line x1="163.4" y1="261.1" x2="163.4" y2="246.6" stroke="#111" stroke-width="0.55"/>
<line x1="238.4" y1="303.1" x2="238.4" y2="288.6" stroke="#111" stroke-width="0.55"/>
<line x1="253.4" y1="294.43" x2="253.4" y2="279.93" stroke="#111" stroke-width="0.55"/>
<polygon points="239,301.15 252.8,293.18 252.8,281.58 239,289.55" fill="#fff" stroke="#111" stroke-width="0.5"/>
<line x1="240.8" y1="301.71" x2="240.8" y2="300.11" stroke="#111" stroke-width="0.8"/>
<line x1="251" y1="295.82" x2="251" y2="294.22" stroke="#111" stroke-width="0.8"/>
<line x1="163.4" y1="247.7" x2="238.4" y2="289.7" stroke="#111" stroke-width="0.8"/>
<line x1="238.4" y1="289.7" x2="253.4" y2="281.03" stroke="#111" stroke-width="0.6"/>
<polygon points="163.7,260.47 166.5,262.04 166.5,249.64 163.7,248.07" fill="#d4d4d4" stroke="#444" stroke-width="0.45"/>
<line x1="163.1" y1="261.13" x2="167.1" y2="263.37" stroke="#111" stroke-width="0.9"/>
<polygon points="176.9,267.86 179.7,269.43 179.7,257.03 176.9,255.46" fill="#d4d4d4" stroke="#444" stroke-width="0.45"/>
<line x1="176.3" y1="268.52" x2="180.3" y2="270.76" stroke="#111" stroke-width="0.9"/>
<polygon points="206.9,284.66 209.7,286.23 209.7,273.83 206.9,272.26" fill="#d4d4d4" stroke="#444" stroke-width="0.45"/>
<line x1="206.3" y1="285.32" x2="210.3" y2="287.56" stroke="#111" stroke-width="0.9"/>
<polygon points="220.9,292.5 223.7,294.07 223.7,281.67 220.9,280.1" fill="#d4d4d4" stroke="#444" stroke-width="0.45"/>
<line x1="220.3" y1="293.16" x2="224.3" y2="295.4" stroke="#111" stroke-width="0.9"/>
<polygon points="234.4,300.06 237.2,301.63 237.2,289.23 234.4,287.66" fill="#d4d4d4" stroke="#444" stroke-width="0.45"/>
<line x1="233.8" y1="300.72" x2="237.8" y2="302.96" stroke="#111" stroke-width="0.9"/>
<line x1="163.4" y1="249.6" x2="238.4" y2="291.6" stroke="#111" stroke-width="0.5"/>
<line x1="163.4" y1="257.7" x2="238.4" y2="299.7" stroke="#111" stroke-width="0.55"/>
<line x1="163.4" y1="256.3" x2="238.4" y2="298.3" stroke="#111" stroke-width="0.55"/>
<line x1="198.7" y1="267.57" x2="198.7" y2="277.47" stroke="#111" stroke-width="0.9"/>
<line x1="200.2" y1="268.41" x2="200.2" y2="278.31" stroke="#444" stroke-width="0.5"/>
<polygon points="196.9,265.82 200.1,267.61 201.5,266.8 198.3,265.01" fill="#111" stroke="#111" stroke-width="0.3"/>
<polygon points="198.3,263.41 201.5,265.2 200.1,267.61 196.9,265.82" fill="#111" stroke="#111" stroke-width="0.3"/>
<line x1="212.8" y1="275.46" x2="212.8" y2="285.36" stroke="#111" stroke-width="0.9"/>
<line x1="214.3" y1="276.3" x2="214.3" y2="286.2" stroke="#444" stroke-width="0.5"/>
<polygon points="211,273.71 214.2,275.5 215.6,274.69 212.4,272.9" fill="#111" stroke="#111" stroke-width="0.3"/>
<polygon points="212.4,271.3 215.6,273.09 214.2,275.5 211,273.71" fill="#111" stroke="#111" stroke-width="0.3"/>
<line x1="226.2" y1="282.97" x2="226.2" y2="292.87" stroke="#111" stroke-width="0.9"/>
<line x1="227.7" y1="283.81" x2="227.7" y2="293.71" stroke="#444" stroke-width="0.5"/>
<polygon points="224.4,281.22 227.6,283.01 229,282.2 225.8,280.41" fill="#111" stroke="#111" stroke-width="0.3"/>
<polygon points="225.8,278.81 229,280.6 227.6,283.01 224.4,281.22" fill="#111" stroke="#111" stroke-width="0.3"/>
<polygon points="60.4,320.6 72.9,327.6 170.2,271.36 170.2,257.36 157.7,250.36 60.4,306.6" fill="#fff" stroke="none" stroke-width="0"/>
<polygon points="60.4,306.6 72.9,313.6 170.2,257.36 157.7,250.36" fill="none" stroke="#111" stroke-width="0.55"/>
<line x1="60.4" y1="320.6" x2="60.4" y2="306.6" stroke="#111" stroke-width="0.55"/>
<line x1="72.9" y1="327.6" x2="72.9" y2="313.6" stroke="#111" stroke-width="0.55"/>
<line x1="170.2" y1="271.36" x2="170.2" y2="257.36" stroke="#111" stroke-width="0.55"/>
<line x1="60.4" y1="320.6" x2="72.9" y2="327.6" stroke="#111" stroke-width="0.5"/>
<line x1="72.9" y1="314.9" x2="170.2" y2="258.66" stroke="#111" stroke-width="0.5"/>
<line x1="60.4" y1="307.9" x2="72.9" y2="314.9" stroke="#111" stroke-width="0.5"/>
<polygon points="73.6,325.5 80.6,321.45 80.6,311.15 73.6,315.2" fill="none" stroke="#111" stroke-width="0.55"/>
<line x1="73.6" y1="318.2" x2="80.6" y2="314.15" stroke="#444" stroke-width="0.4"/>
<line x1="78.85" y1="316.76" x2="78.85" y2="319.16" stroke="#111" stroke-width="0.7"/>
<line x1="80.6" y1="321.65" x2="80.6" y2="310.55" stroke="#111" stroke-width="0.9"/>
<line x1="80.6" y1="321.45" x2="80.6" y2="322.95" stroke="#111" stroke-width="0.6"/>
<polygon points="81.6,320.87 96.6,312.2 96.6,301.9 81.6,310.57" fill="none" stroke="#111" stroke-width="0.55"/>
<line x1="81.6" y1="313.57" x2="96.6" y2="304.9" stroke="#444" stroke-width="0.4"/>
<line x1="89.1" y1="310.84" x2="89.1" y2="313.24" stroke="#111" stroke-width="0.7"/>
<line x1="84.9" y1="309.96" x2="87" y2="308.75" stroke="#111" stroke-width="0.55"/>
<line x1="91.2" y1="306.32" x2="93.3" y2="305.11" stroke="#111" stroke-width="0.55"/>
<line x1="89.1" y1="306.24" x2="89.1" y2="309.24" stroke="#444" stroke-width="0.4"/>
<line x1="96.6" y1="312.4" x2="96.6" y2="301.3" stroke="#111" stroke-width="0.9"/>
<line x1="96.6" y1="312.2" x2="96.6" y2="313.7" stroke="#111" stroke-width="0.6"/>
<polygon points="97.6,311.62 112.6,302.95 112.6,292.65 97.6,301.32" fill="none" stroke="#111" stroke-width="0.55"/>
<line x1="97.6" y1="304.32" x2="112.6" y2="295.65" stroke="#444" stroke-width="0.4"/>
<line x1="105.1" y1="301.59" x2="105.1" y2="303.99" stroke="#111" stroke-width="0.7"/>
<line x1="100.9" y1="300.72" x2="103" y2="299.5" stroke="#111" stroke-width="0.55"/>
<line x1="107.2" y1="297.07" x2="109.3" y2="295.86" stroke="#111" stroke-width="0.55"/>
<line x1="105.1" y1="296.99" x2="105.1" y2="299.99" stroke="#444" stroke-width="0.4"/>
<line x1="112.6" y1="303.15" x2="112.6" y2="292.05" stroke="#111" stroke-width="0.9"/>
<line x1="112.6" y1="302.95" x2="112.6" y2="304.45" stroke="#111" stroke-width="0.6"/>
<polygon points="113.6,302.38 120.6,298.33 120.6,288.03 113.6,292.08" fill="none" stroke="#111" stroke-width="0.55"/>
<line x1="113.6" y1="295.08" x2="120.6" y2="291.03" stroke="#444" stroke-width="0.4"/>
<line x1="118.85" y1="293.64" x2="118.85" y2="296.04" stroke="#111" stroke-width="0.7"/>
<line x1="120.6" y1="298.53" x2="120.6" y2="287.43" stroke="#111" stroke-width="0.9"/>
<line x1="120.6" y1="298.33" x2="120.6" y2="299.83" stroke="#111" stroke-width="0.6"/>
<polygon points="121.6,297.75 136.6,289.08 136.6,278.78 121.6,287.45" fill="none" stroke="#111" stroke-width="0.55"/>
<line x1="121.6" y1="290.45" x2="136.6" y2="281.78" stroke="#444" stroke-width="0.4"/>
<line x1="129.1" y1="287.72" x2="129.1" y2="290.12" stroke="#111" stroke-width="0.7"/>
<line x1="124.9" y1="286.84" x2="127" y2="285.63" stroke="#111" stroke-width="0.55"/>
<line x1="131.2" y1="283.2" x2="133.3" y2="281.99" stroke="#111" stroke-width="0.55"/>
<line x1="129.1" y1="283.12" x2="129.1" y2="286.12" stroke="#444" stroke-width="0.4"/>
<line x1="136.6" y1="289.28" x2="136.6" y2="278.18" stroke="#111" stroke-width="0.9"/>
<line x1="136.6" y1="289.08" x2="136.6" y2="290.58" stroke="#111" stroke-width="0.6"/>
<polygon points="137.6,288.5 152.6,279.83 152.6,269.53 137.6,278.2" fill="none" stroke="#111" stroke-width="0.55"/>
<line x1="137.6" y1="281.2" x2="152.6" y2="272.53" stroke="#444" stroke-width="0.4"/>
<line x1="145.1" y1="278.47" x2="145.1" y2="280.87" stroke="#111" stroke-width="0.7"/>
<line x1="140.9" y1="277.6" x2="143" y2="276.38" stroke="#111" stroke-width="0.55"/>
<line x1="147.2" y1="273.95" x2="149.3" y2="272.74" stroke="#111" stroke-width="0.55"/>
<line x1="145.1" y1="273.87" x2="145.1" y2="276.87" stroke="#444" stroke-width="0.4"/>
<line x1="152.6" y1="280.03" x2="152.6" y2="268.93" stroke="#111" stroke-width="0.9"/>
<line x1="152.6" y1="279.83" x2="152.6" y2="281.33" stroke="#111" stroke-width="0.6"/>
<polygon points="153.6,279.26 160.6,275.21 160.6,264.91 153.6,268.96" fill="none" stroke="#111" stroke-width="0.55"/>
<line x1="153.6" y1="271.96" x2="160.6" y2="267.91" stroke="#444" stroke-width="0.4"/>
<line x1="158.85" y1="270.52" x2="158.85" y2="272.92" stroke="#111" stroke-width="0.7"/>
<line x1="160.6" y1="275.41" x2="160.6" y2="264.31" stroke="#111" stroke-width="0.9"/>
<line x1="160.6" y1="275.21" x2="160.6" y2="276.71" stroke="#111" stroke-width="0.6"/>
<polygon points="161.6,274.63 169.5,270.07 169.5,259.77 161.6,264.33" fill="none" stroke="#111" stroke-width="0.55"/>
<line x1="161.6" y1="267.33" x2="169.5" y2="262.77" stroke="#444" stroke-width="0.4"/>
<line x1="167.53" y1="265.51" x2="167.53" y2="267.91" stroke="#111" stroke-width="0.7"/>
<line x1="169.5" y1="270.27" x2="169.5" y2="259.17" stroke="#111" stroke-width="0.9"/>
<line x1="169.5" y1="270.07" x2="169.5" y2="271.57" stroke="#111" stroke-width="0.6"/>
<polygon points="61.2,321.05 61.2,308.35 63,309.36 63,322.06" fill="#ddd" stroke="#444" stroke-width="0.45"/>
<line x1="113" y1="276.2" x2="125.5" y2="283.2" stroke="#111" stroke-width="0.45"/>
<polygon points="124.4,297.53 126.6,296.26 126.6,283.86 124.4,285.13" fill="#bbb" stroke="#444" stroke-width="0.4"/>
<polygon points="67.2,302.1 70.4,300.25 71.8,301.04 68.6,302.88" fill="#111" stroke="#111" stroke-width="0.3"/>
<polygon points="67.2,300.5 70.4,298.65 71.8,301.04 68.6,302.88" fill="#111" stroke="#111" stroke-width="0.3"/>
<polygon points="84.4,292.16 87.6,290.31 89,291.09 85.8,292.94" fill="#111" stroke="#111" stroke-width="0.3"/>
<polygon points="84.4,290.56 87.6,288.71 89,291.09 85.8,292.94" fill="#111" stroke="#111" stroke-width="0.3"/>
<polygon points="101.3,282.39 104.5,280.54 105.9,281.33 102.7,283.17" fill="#111" stroke="#111" stroke-width="0.3"/>
<polygon points="101.3,280.79 104.5,278.94 105.9,281.33 102.7,283.17" fill="#111" stroke="#111" stroke-width="0.3"/>
<polygon points="118.5,272.45 121.7,270.6 123.1,271.38 119.9,273.23" fill="#111" stroke="#111" stroke-width="0.3"/>
<polygon points="118.5,270.85 121.7,269 123.1,271.38 119.9,273.23" fill="#111" stroke="#111" stroke-width="0.3"/>
<polygon points="135.6,262.57 138.8,260.72 140.2,261.5 137,263.35" fill="#111" stroke="#111" stroke-width="0.3"/>
<polygon points="135.6,260.97 138.8,259.12 140.2,261.5 137,263.35" fill="#111" stroke="#111" stroke-width="0.3"/>
<polygon points="307.9,217.1 323.6,225.89 323.6,189.39 307.9,180.6" fill="#fff" stroke="#222" stroke-width="0.55"/>
<polygon points="323.6,225.89 331.2,221.5 331.2,185 323.6,189.39" fill="#fff" stroke="#222" stroke-width="0.55"/>
<polygon points="307.9,180.6 323.6,189.39 331.2,185 315.5,176.21" fill="#fff" stroke="#222" stroke-width="0.55"/>
<polygon points="308.7,216.55 322.8,224.44 322.8,189.94 308.7,182.05" fill="none" stroke="#111" stroke-width="0.7"/>
<polygon points="309.5,214.97 322,221.97 322,190.7 309.5,183.7" fill="#ececec" stroke="#444" stroke-width="0.5"/>
<line x1="308.7" y1="215.72" x2="322.8" y2="223.62" stroke="#111" stroke-width="0.8"/>
<line x1="315.75" y1="220.5" x2="315.75" y2="186" stroke="#111" stroke-width="0.9"/>
<line x1="314.85" y1="217.97" x2="314.85" y2="186.69" stroke="#444" stroke-width="0.4"/>
<line x1="316.65" y1="218.97" x2="316.65" y2="187.7" stroke="#444" stroke-width="0.4"/>
<line x1="314.55" y1="215.6" x2="317.55" y2="214.48" stroke="#111" stroke-width="0.9"/>
<line x1="311.04" y1="214.33" x2="314.49" y2="216.27" stroke="#444" stroke-width="0.7"/>
<line x1="317.32" y1="216.75" x2="321.25" y2="218.95" stroke="#444" stroke-width="0.7"/>
<line x1="309.5" y1="207.15" x2="322" y2="214.15" stroke="#111" stroke-width="0.55"/>
<rect x="311.24" y="202.8" width="1.9" height="1.6" fill="#22cc44"/>
<rect x="318.46" y="208.22" width="1.9" height="1.6" fill="#22cc44"/>
<line x1="314.55" y1="207.78" x2="317.55" y2="206.66" stroke="#111" stroke-width="0.9"/>
<line x1="311.04" y1="206.51" x2="314.49" y2="208.45" stroke="#444" stroke-width="0.7"/>
<line x1="317.32" y1="208.93" x2="321.25" y2="211.13" stroke="#444" stroke-width="0.7"/>
<line x1="309.5" y1="199.33" x2="322" y2="206.33" stroke="#111" stroke-width="0.55"/>
<rect x="311.24" y="194.98" width="1.9" height="1.6" fill="#22cc44"/>
<rect x="318.46" y="200.4" width="1.9" height="1.6" fill="#22cc44"/>
<line x1="314.55" y1="199.96" x2="317.55" y2="198.84" stroke="#111" stroke-width="0.9"/>
<line x1="311.04" y1="198.7" x2="314.49" y2="200.63" stroke="#444" stroke-width="0.7"/>
<line x1="317.32" y1="201.11" x2="321.25" y2="203.31" stroke="#444" stroke-width="0.7"/>
<line x1="309.5" y1="191.51" x2="322" y2="198.51" stroke="#111" stroke-width="0.55"/>
<rect x="311.24" y="187.16" width="1.9" height="1.6" fill="#22cc44"/>
<rect x="318.46" y="192.58" width="1.9" height="1.6" fill="#22cc44"/>
<line x1="314.55" y1="192.14" x2="317.55" y2="191.02" stroke="#111" stroke-width="0.9"/>
<line x1="311.04" y1="190.88" x2="314.49" y2="192.81" stroke="#444" stroke-width="0.7"/>
<line x1="317.32" y1="193.29" x2="321.25" y2="195.49" stroke="#444" stroke-width="0.7"/>
<polygon points="323.6,225.89 339.3,234.68 339.3,198.18 323.6,189.39" fill="#fff" stroke="#222" stroke-width="0.55"/>
<polygon points="339.3,234.68 346.9,230.29 346.9,193.79 339.3,198.18" fill="#fff" stroke="#222" stroke-width="0.55"/>
<polygon points="323.6,189.39 339.3,198.18 346.9,193.79 331.2,185" fill="#fff" stroke="#222" stroke-width="0.55"/>
<polygon points="324.4,225.34 338.5,233.24 338.5,198.74 324.4,190.84" fill="none" stroke="#111" stroke-width="0.7"/>
<polygon points="325.2,212.08 337.7,219.08 337.7,199.49 325.2,192.49" fill="#f4f4f4" stroke="#444" stroke-width="0.5"/>
<line x1="324.4" y1="212.84" x2="338.5" y2="220.73" stroke="#111" stroke-width="0.8"/>
<line x1="331.45" y1="229.29" x2="331.45" y2="194.79" stroke="#111" stroke-width="0.9"/>
<line x1="330.55" y1="215.08" x2="330.55" y2="195.48" stroke="#444" stroke-width="0.4"/>
<line x1="332.35" y1="216.09" x2="332.35" y2="196.49" stroke="#444" stroke-width="0.4"/>
<rect x="326.94" y="206.31" width="1.9" height="1.6" fill="#22cc44"/>
<rect x="334.16" y="212.13" width="1.9" height="1.6" fill="#22cc44"/>
<line x1="325.2" y1="202.29" x2="337.7" y2="209.29" stroke="#111" stroke-width="0.55"/>
<rect x="326.94" y="196.52" width="1.9" height="1.6" fill="#22cc44"/>
<rect x="334.16" y="202.33" width="1.9" height="1.6" fill="#22cc44"/>
<line x1="330.15" y1="219.06" x2="330.15" y2="222.56" stroke="#111" stroke-width="0.8"/>
<line x1="332.75" y1="220.51" x2="332.75" y2="224.01" stroke="#111" stroke-width="0.8"/>
<line x1="331.65" y1="209.9" x2="333.05" y2="207.18" stroke="#111" stroke-width="0.9"/>
<line x1="204" y1="257.2" x2="298" y2="204.3" stroke="#3c3cdc" stroke-width="0.5"/>
<line x1="298" y1="204.3" x2="295" y2="202.6" stroke="#3c3cdc" stroke-width="0.5"/>
<polygon points="243,251.5 292.7,279.33 316.7,265.46 316.7,251.46 267,223.63 243,237.5" fill="#fff" stroke="none" stroke-width="0"/>
<polygon points="243,237.5 292.7,265.33 316.7,251.46 267,223.63" fill="none" stroke="#111" stroke-width="0.55"/>
<line x1="243" y1="251.5" x2="243" y2="237.5" stroke="#111" stroke-width="0.55"/>
<line x1="292.7" y1="279.33" x2="292.7" y2="265.33" stroke="#111" stroke-width="0.55"/>
<line x1="316.7" y1="265.46" x2="316.7" y2="251.46" stroke="#111" stroke-width="0.55"/>
<line x1="292.7" y1="279.33" x2="316.7" y2="265.46" stroke="#111" stroke-width="0.5"/>
<line x1="243" y1="238.8" x2="292.7" y2="266.63" stroke="#111" stroke-width="0.5"/>
<line x1="292.7" y1="266.63" x2="316.7" y2="252.76" stroke="#111" stroke-width="0.5"/>
<polygon points="243.7,250.19 250.7,254.11 250.7,243.81 243.7,239.89" fill="none" stroke="#111" stroke-width="0.55"/>
<line x1="243.7" y1="242.89" x2="250.7" y2="246.81" stroke="#444" stroke-width="0.4"/>
<line x1="245.8" y1="245.67" x2="245.8" y2="248.07" stroke="#111" stroke-width="0.7"/>
<line x1="243.7" y1="250.39" x2="243.7" y2="239.29" stroke="#111" stroke-width="0.9"/>
<line x1="243.7" y1="250.19" x2="243.7" y2="251.69" stroke="#111" stroke-width="0.6"/>
<polygon points="251.7,254.67 266.7,263.07 266.7,252.77 251.7,244.37" fill="none" stroke="#111" stroke-width="0.55"/>
<line x1="251.7" y1="247.37" x2="266.7" y2="255.77" stroke="#444" stroke-width="0.4"/>
<line x1="259.2" y1="253.17" x2="259.2" y2="255.57" stroke="#111" stroke-width="0.7"/>
<line x1="255" y1="247.52" x2="257.1" y2="248.7" stroke="#111" stroke-width="0.55"/>
<line x1="261.3" y1="251.05" x2="263.4" y2="252.22" stroke="#111" stroke-width="0.55"/>
<line x1="259.2" y1="248.57" x2="259.2" y2="251.57" stroke="#444" stroke-width="0.4"/>
<line x1="251.7" y1="254.87" x2="251.7" y2="243.77" stroke="#111" stroke-width="0.9"/>
<line x1="251.7" y1="254.67" x2="251.7" y2="256.17" stroke="#111" stroke-width="0.6"/>
<polygon points="267.7,263.63 282.7,272.03 282.7,261.73 267.7,253.33" fill="none" stroke="#111" stroke-width="0.55"/>
<line x1="267.7" y1="256.33" x2="282.7" y2="264.73" stroke="#444" stroke-width="0.4"/>
<line x1="275.2" y1="262.13" x2="275.2" y2="264.53" stroke="#111" stroke-width="0.7"/>
<line x1="271" y1="256.48" x2="273.1" y2="257.66" stroke="#111" stroke-width="0.55"/>
<line x1="277.3" y1="260.01" x2="279.4" y2="261.18" stroke="#111" stroke-width="0.55"/>
<line x1="275.2" y1="257.53" x2="275.2" y2="260.53" stroke="#444" stroke-width="0.4"/>
<line x1="267.7" y1="263.83" x2="267.7" y2="252.73" stroke="#111" stroke-width="0.9"/>
<line x1="267.7" y1="263.63" x2="267.7" y2="265.13" stroke="#111" stroke-width="0.6"/>
<polygon points="283.7,272.59 292,277.24 292,266.94 283.7,262.29" fill="none" stroke="#111" stroke-width="0.55"/>
<line x1="283.7" y1="265.29" x2="292" y2="269.94" stroke="#444" stroke-width="0.4"/>
<line x1="286.19" y1="268.29" x2="286.19" y2="270.69" stroke="#111" stroke-width="0.7"/>
<line x1="283.7" y1="272.79" x2="283.7" y2="261.69" stroke="#111" stroke-width="0.9"/>
<line x1="283.7" y1="272.59" x2="283.7" y2="274.09" stroke="#111" stroke-width="0.6"/>
<polygon points="315.9,265.92 315.9,253.22 314.1,254.26 314.1,266.96" fill="#ddd" stroke="#444" stroke-width="0.45"/>
<line x1="300.7" y1="273.51" x2="300.7" y2="262.01" stroke="#111" stroke-width="0.6"/>
<line x1="308.7" y1="268.88" x2="308.7" y2="257.38" stroke="#111" stroke-width="0.6"/>
<line x1="293.7" y1="277.35" x2="315.7" y2="264.64" stroke="#111" stroke-width="0.5"/>
<polygon points="253.9,224.68 302.2,251.73 302.2,249.73 253.9,222.68" fill="#fff" stroke="#111" stroke-width="0.55"/>
<polygon points="302.2,251.73 305.6,249.77 305.6,247.77 302.2,249.73" fill="#fff" stroke="#111" stroke-width="0.55"/>
<polygon points="253.9,222.68 302.2,249.73 305.6,247.77 257.3,220.72" fill="#fff" stroke="#111" stroke-width="0.55"/>
<polygon points="253.9,218.28 302.2,245.33 302.2,243.33 253.9,216.28" fill="#fff" stroke="#111" stroke-width="0.55"/>
<polygon points="302.2,245.33 305.6,243.37 305.6,241.37 302.2,243.33" fill="#fff" stroke="#111" stroke-width="0.55"/>
<polygon points="253.9,216.28 302.2,243.33 305.6,241.37 257.3,214.32" fill="#fff" stroke="#111" stroke-width="0.55"/>
<polygon points="254,231.82 255.8,232.83 255.8,217.43 254,216.42" fill="#999" stroke="#111" stroke-width="0.6"/>
<polygon points="255.8,232.83 257.8,231.68 257.8,216.28 255.8,217.43" fill="#ccc" stroke="#111" stroke-width="0.5"/>
<polygon points="277.25,244.84 279.05,245.85 279.05,238.45 277.25,237.44" fill="#999" stroke="#111" stroke-width="0.6"/>
<polygon points="279.05,245.85 281.05,244.7 281.05,237.3 279.05,238.45" fill="#ccc" stroke="#111" stroke-width="0.5"/>
<polygon points="300.5,257.86 302.3,258.87 302.3,243.47 300.5,242.46" fill="#999" stroke="#111" stroke-width="0.6"/>
<polygon points="302.3,258.87 304.3,257.72 304.3,242.32 302.3,243.47" fill="#ccc" stroke="#111" stroke-width="0.5"/>
<polygon points="312.7,283.4 317.2,285.92 317.2,225.92 312.7,223.4" fill="#fff" stroke="#e8606e" stroke-width="0.5"/>
<polygon points="317.2,285.92 323.9,282.05 323.9,222.05 317.2,225.92" fill="#fff" stroke="#e8606e" stroke-width="0.5"/>
<polygon points="312.7,223.4 317.2,225.92 323.9,222.05 319.4,219.53" fill="#fff" stroke="#e8606e" stroke-width="0.5"/>
<polygon points="235.5,304.7 261.2,319.09 261.2,273.59 235.5,259.2" fill="#fff" stroke="#222" stroke-width="0.55"/>
<polygon points="261.2,319.09 274,311.69 274,266.19 261.2,273.59" fill="#fff" stroke="#222" stroke-width="0.55"/>
<polygon points="235.5,259.2 261.2,273.59 274,266.19 248.3,251.8" fill="#fff" stroke="#222" stroke-width="0.55"/>
<line x1="235.5" y1="292.2" x2="261.2" y2="306.59" stroke="#111" stroke-width="0.6"/>
<line x1="261.2" y1="306.59" x2="274" y2="299.19" stroke="#111" stroke-width="0.6"/>
<line x1="235.5" y1="290.7" x2="261.2" y2="305.09" stroke="#111" stroke-width="0.5"/>
<line x1="261.2" y1="305.09" x2="274" y2="297.69" stroke="#111" stroke-width="0.5"/>
<polygon points="235.5,304.7 237.7,305.93 237.7,293.43 235.5,292.2" fill="#ddd" stroke="#111" stroke-width="0.55"/>
<polygon points="259,317.86 261.2,319.09 261.2,306.59 259,305.36" fill="#ddd" stroke="#111" stroke-width="0.55"/>
<line x1="237.7" y1="301.93" x2="259" y2="313.86" stroke="#111" stroke-width="0.5"/>
<line x1="237.7" y1="300.73" x2="259" y2="312.66" stroke="#111" stroke-width="0.5"/>
<line x1="272.5" y1="312.56" x2="272.5" y2="300.06" stroke="#111" stroke-width="0.5"/>
<line x1="235.5" y1="265.2" x2="261.2" y2="273.59" stroke="#111" stroke-width="0.5"/>
<ellipse cx="252.45" cy="264.61" rx="1.4" ry="0.9" fill="none" stroke="#222" stroke-width="0.5"/>
<polygon points="188,355.8 192.8,358.49 192.8,300.99 188,298.3" fill="#fff" stroke="#e8606e" stroke-width="0.5"/>
<polygon points="192.8,358.49 200.8,353.86 200.8,296.36 192.8,300.99" fill="#fff" stroke="#e8606e" stroke-width="0.5"/>
<polygon points="188,298.3 192.8,300.99 200.8,296.36 196,293.68" fill="#fff" stroke="#e8606e" stroke-width="0.5"/>
<polygon points="18,392 79,426.16 91,419.22 91,403.22 30,369.06 18,376" fill="#fff" stroke="none" stroke-width="0"/>
<polygon points="18,376 79,410.16 91,403.22 30,369.06" fill="none" stroke="#111" stroke-width="0.55"/>
<line x1="18" y1="392" x2="18" y2="376" stroke="#111" stroke-width="0.55"/>
<line x1="79" y1="426.16" x2="79" y2="410.16" stroke="#111" stroke-width="0.55"/>
<line x1="91" y1="419.22" x2="91" y2="403.22" stroke="#111" stroke-width="0.55"/>
<polygon points="79.6,424.21 90.4,417.97 90.4,404.87 79.6,411.11" fill="#fff" stroke="#111" stroke-width="0.5"/>
<line x1="81.4" y1="424.77" x2="81.4" y2="423.17" stroke="#111" stroke-width="0.8"/>
<line x1="88.6" y1="420.61" x2="88.6" y2="419.01" stroke="#111" stroke-width="0.8"/>
<line x1="18" y1="377.1" x2="79" y2="411.26" stroke="#111" stroke-width="0.8"/>
<line x1="79" y1="411.26" x2="91" y2="404.32" stroke="#111" stroke-width="0.6"/>
<polygon points="18.3,391.37 21.1,392.94 21.1,379.04 18.3,377.47" fill="#d4d4d4" stroke="#444" stroke-width="0.45"/>
<line x1="17.7" y1="392.03" x2="21.7" y2="394.27" stroke="#111" stroke-width="0.9"/>
<polygon points="38.5,402.68 41.3,404.25 41.3,390.35 38.5,388.78" fill="#d4d4d4" stroke="#444" stroke-width="0.45"/>
<line x1="37.9" y1="403.34" x2="41.9" y2="405.58" stroke="#111" stroke-width="0.9"/>
<polygon points="56.5,412.76 59.3,414.33 59.3,400.43 56.5,398.86" fill="#d4d4d4" stroke="#444" stroke-width="0.45"/>
<line x1="55.9" y1="413.42" x2="59.9" y2="415.66" stroke="#111" stroke-width="0.9"/>
<polygon points="75.4,423.34 78.2,424.91 78.2,411.01 75.4,409.44" fill="#d4d4d4" stroke="#444" stroke-width="0.45"/>
<line x1="74.8" y1="424.01" x2="78.8" y2="426.25" stroke="#111" stroke-width="0.9"/>
<line x1="18" y1="379" x2="79" y2="413.16" stroke="#111" stroke-width="0.5"/>
<line x1="18" y1="388.6" x2="79" y2="422.76" stroke="#111" stroke-width="0.55"/>
<line x1="18" y1="387.2" x2="79" y2="421.36" stroke="#111" stroke-width="0.55"/>
<line x1="29.8" y1="383.81" x2="29.8" y2="395.21" stroke="#111" stroke-width="0.9"/>
<line x1="31.3" y1="384.65" x2="31.3" y2="396.05" stroke="#444" stroke-width="0.5"/>
<polygon points="28,382.06 31.2,383.85 32.6,383.04 29.4,381.25" fill="#111" stroke="#111" stroke-width="0.3"/>
<polygon points="29.4,379.65 32.6,381.44 31.2,383.85 28,382.06" fill="#111" stroke="#111" stroke-width="0.3"/>
<line x1="47.8" y1="393.89" x2="47.8" y2="405.29" stroke="#111" stroke-width="0.9"/>
<line x1="49.3" y1="394.73" x2="49.3" y2="406.13" stroke="#444" stroke-width="0.5"/>
<polygon points="46,392.14 49.2,393.93 50.6,393.12 47.4,391.33" fill="#111" stroke="#111" stroke-width="0.3"/>
<polygon points="47.4,389.73 50.6,391.52 49.2,393.93 46,392.14" fill="#111" stroke="#111" stroke-width="0.3"/>
<line x1="65.8" y1="403.97" x2="65.8" y2="415.37" stroke="#111" stroke-width="0.9"/>
<line x1="67.3" y1="404.81" x2="67.3" y2="416.21" stroke="#444" stroke-width="0.5"/>
<polygon points="64,402.22 67.2,404.01 68.6,403.2 65.4,401.41" fill="#111" stroke="#111" stroke-width="0.3"/>
<polygon points="65.4,399.81 68.6,401.6 67.2,404.01 64,402.22" fill="#111" stroke="#111" stroke-width="0.3"/>
<polygon points="73,424.5 75.6,425.96 75.6,365.96 73,364.5" fill="#fff" stroke="#e8606e" stroke-width="0.5"/>
<polygon points="75.6,425.96 80,423.41 80,363.41 75.6,365.96" fill="#fff" stroke="#e8606e" stroke-width="0.5"/>
<polygon points="73,364.5 75.6,365.96 80,363.41 77.4,361.96" fill="#fff" stroke="#e8606e" stroke-width="0.5"/>
<polygon points="152.5,258.82 159.5,254.78 164.5,257.58 157.5,261.62" fill="#fff" stroke="#111" stroke-width="0.5"/>
<polygon points="152.5,258.82 152.5,260.82 159.5,256.78 159.5,254.78" fill="#eee" stroke="#444" stroke-width="0.4"/>
<line x1="159.5" y1="256.78" x2="163.5" y2="259.02" stroke="#444" stroke-width="0.4"/>
<polygon points="148.2,243.8 154.2,240.3 154.6,252.6 148.6,256.2" fill="#fff" stroke="#111" stroke-width="0.6"/>
<line x1="149.6" y1="246.2" x2="150.8" y2="245.5" stroke="#111" stroke-width="0.6"/>
<line x1="152.2" y1="244.7" x2="153.4" y2="244" stroke="#111" stroke-width="0.6"/>
<line x1="149.6" y1="249.2" x2="150.8" y2="248.5" stroke="#111" stroke-width="0.6"/>
<line x1="152.2" y1="247.7" x2="153.4" y2="247" stroke="#111" stroke-width="0.6"/>
<line x1="149.6" y1="252.2" x2="150.8" y2="251.5" stroke="#111" stroke-width="0.6"/>
<line x1="152.2" y1="250.7" x2="153.4" y2="250" stroke="#111" stroke-width="0.6"/>
<polyline points="153.6,254.4 153.6,249.4 156.2,248.2 158.6,250.2" fill="none" stroke="#111" stroke-width="1.1"/>
<circle cx="155.4" cy="250.6" r="1.3" fill="#111"/>
<polygon points="183.5,248.8 188.8,245.8 188.8,258.4 183.5,261.4" fill="#fff" stroke="#111" stroke-width="0.6"/>
<polygon points="188.8,245.8 190,246.5 190,259.1 188.8,258.4" fill="#ccc" stroke="#111" stroke-width="0.5"/>
<polyline points="191,257.5 191,251.5 193.6,250.2 196,252.4" fill="none" stroke="#111" stroke-width="1"/>
<circle cx="192.6" cy="253.4" r="1.2" fill="#111"/>
<polygon points="193,256.5 198.5,259.5 196,261 190.5,258" fill="none" stroke="#111" stroke-width="0.5"/>
<line x1="78.8" y1="332.8" x2="177.5" y2="275.1" stroke="#3c3cdc" stroke-width="0.5"/>
<line x1="78.8" y1="332.8" x2="75.6" y2="331.4" stroke="#3c3cdc" stroke-width="0.5"/>
<line x1="177.5" y1="275.1" x2="174.5" y2="273.6" stroke="#3c3cdc" stroke-width="0.5"/>
<text x="126" y="304.2" font-size="4.5" fill="#000" text-anchor="middle" font-weight="bold" font-family="&quot;Liberation Sans&quot;,&quot;Noto Sans CJK SC&quot;,sans-serif" transform="rotate(-30.03 126 304.2)" stroke="#000" stroke-width="0.18">5770</text>
<text x="97.4" y="330.2" font-size="4" fill="#000" text-anchor="middle" font-weight="bold" font-family="&quot;Liberation Sans&quot;,&quot;Noto Sans CJK SC&quot;,sans-serif" transform="rotate(-30.03 97.4 330.2)" stroke="#000" stroke-width="0.18">器皿</text>
<text x="125.8" y="313.8" font-size="4" fill="#000" text-anchor="middle" font-weight="bold" font-family="&quot;Liberation Sans&quot;,&quot;Noto Sans CJK SC&quot;,sans-serif" transform="rotate(-30.03 125.8 313.8)" stroke="#000" stroke-width="0.18">水池</text>
<text x="152.5" y="294.6" font-size="4" fill="#000" text-anchor="middle" font-weight="bold" font-family="&quot;Liberation Sans&quot;,&quot;Noto Sans CJK SC&quot;,sans-serif" transform="rotate(-30.03 152.5 294.6)" stroke="#000" stroke-width="0.18">柜台</text>
<text x="212" y="253.6" font-size="4.4" fill="#000" text-anchor="middle" font-weight="bold" font-family="&quot;Liberation Sans&quot;,&quot;Noto Sans CJK SC&quot;,sans-serif" transform="rotate(-30.03 212 253.6)" stroke="#000" stroke-width="0.18">3860</text>
<text x="232.7" y="250.2" font-size="4" fill="#000" text-anchor="middle" font-weight="bold" font-family="&quot;Liberation Sans&quot;,&quot;Noto Sans CJK SC&quot;,sans-serif" transform="rotate(-30.03 232.7 250.2)" stroke="#000" stroke-width="0.18">仪器台</text>
<text x="272" y="219.4" font-size="4" fill="#000" text-anchor="middle" font-weight="bold" font-family="&quot;Liberation Sans&quot;,&quot;Noto Sans CJK SC&quot;,sans-serif" transform="rotate(-30.03 272 219.4)" stroke="#000" stroke-width="0.18">1500</text>
<text x="281.5" y="222.8" font-size="3.8" fill="#000" text-anchor="middle" font-weight="bold" font-family="&quot;Liberation Sans&quot;,&quot;Noto Sans CJK SC&quot;,sans-serif" transform="rotate(-30.03 281.5 222.8)" stroke="#000" stroke-width="0.18">中央实验台</text>
<line x1="88" y1="430.6" x2="144" y2="398.39" stroke="#3c3cdc" stroke-width="0.5"/>
<line x1="88" y1="430.6" x2="85.6" y2="429.25" stroke="#3c3cdc" stroke-width="0.5"/>
<line x1="144" y1="398.39" x2="141.6" y2="397.05" stroke="#3c3cdc" stroke-width="0.5"/>
<line x1="87.2" y1="431.06" x2="88" y2="430.6" stroke="#3c3cdc" stroke-width="0.5"/>
<line x1="144.8" y1="397.93" x2="144" y2="398.39" stroke="#3c3cdc" stroke-width="0.5"/>
<line x1="146" y1="397.24" x2="205.7" y2="362.91" stroke="#3c3cdc" stroke-width="0.5"/>
<line x1="146" y1="397.24" x2="143.6" y2="395.9" stroke="#3c3cdc" stroke-width="0.5"/>
<line x1="205.7" y1="362.91" x2="203.3" y2="361.56" stroke="#3c3cdc" stroke-width="0.5"/>
<line x1="145.2" y1="397.7" x2="146" y2="397.24" stroke="#3c3cdc" stroke-width="0.5"/>
<line x1="206.5" y1="362.44" x2="205.7" y2="362.91" stroke="#3c3cdc" stroke-width="0.5"/>
<line x1="207.7" y1="361.76" x2="265" y2="328.92" stroke="#3c3cdc" stroke-width="0.5"/>
<line x1="207.7" y1="361.76" x2="205.3" y2="360.41" stroke="#3c3cdc" stroke-width="0.5"/>
<line x1="265" y1="328.92" x2="262.6" y2="327.58" stroke="#3c3cdc" stroke-width="0.5"/>
<line x1="206.9" y1="362.22" x2="207.7" y2="361.76" stroke="#3c3cdc" stroke-width="0.5"/>
<line x1="265.8" y1="328.46" x2="265" y2="328.92" stroke="#3c3cdc" stroke-width="0.5"/>
<line x1="267" y1="327.78" x2="326.7" y2="293.71" stroke="#3c3cdc" stroke-width="0.5"/>
<line x1="267" y1="327.78" x2="264.6" y2="326.44" stroke="#3c3cdc" stroke-width="0.5"/>
<line x1="326.7" y1="293.71" x2="324.3" y2="292.37" stroke="#3c3cdc" stroke-width="0.5"/>
<line x1="266.2" y1="328.24" x2="267" y2="327.78" stroke="#3c3cdc" stroke-width="0.5"/>
<line x1="327.5" y1="293.25" x2="326.7" y2="293.71" stroke="#3c3cdc" stroke-width="0.5"/>
<line x1="328.7" y1="292.57" x2="386.8" y2="259.23" stroke="#3c3cdc" stroke-width="0.5"/>
<line x1="328.7" y1="292.57" x2="326.3" y2="291.23" stroke="#3c3cdc" stroke-width="0.5"/>
<line x1="386.8" y1="259.23" x2="384.4" y2="257.88" stroke="#3c3cdc" stroke-width="0.5"/>
<line x1="327.9" y1="293.04" x2="328.7" y2="292.57" stroke="#3c3cdc" stroke-width="0.5"/>
<line x1="387.6" y1="258.76" x2="386.8" y2="259.23" stroke="#3c3cdc" stroke-width="0.5"/>
<line x1="388.8" y1="258.07" x2="448" y2="223.82" stroke="#3c3cdc" stroke-width="0.5"/>
<line x1="388.8" y1="258.07" x2="386.4" y2="256.72" stroke="#3c3cdc" stroke-width="0.5"/>
<line x1="448" y1="223.82" x2="445.6" y2="222.48" stroke="#3c3cdc" stroke-width="0.5"/>
<line x1="388" y1="258.53" x2="388.8" y2="258.07" stroke="#3c3cdc" stroke-width="0.5"/>
<line x1="448.8" y1="223.36" x2="448" y2="223.82" stroke="#3c3cdc" stroke-width="0.5"/>
<text x="115" y="414.27" font-size="4.4" fill="#000" text-anchor="middle" font-weight="bold" font-family="&quot;Liberation Sans&quot;,&quot;Noto Sans CJK SC&quot;,sans-serif" transform="rotate(-30.03 115 414.27)" stroke="#000" stroke-width="0.18">3290</text>
<text x="176.5" y="378.9" font-size="4.4" fill="#000" text-anchor="middle" font-weight="bold" font-family="&quot;Liberation Sans&quot;,&quot;Noto Sans CJK SC&quot;,sans-serif" transform="rotate(-30.03 176.5 378.9)" stroke="#000" stroke-width="0.18">3400</text>
<text x="236" y="344.68" font-size="4.4" fill="#000" text-anchor="middle" font-weight="bold" font-family="&quot;Liberation Sans&quot;,&quot;Noto Sans CJK SC&quot;,sans-serif" transform="rotate(-30.03 236 344.68)" stroke="#000" stroke-width="0.18">3400</text>
<text x="297.5" y="309.58" font-size="4.4" fill="#000" text-anchor="middle" font-weight="bold" font-family="&quot;Liberation Sans&quot;,&quot;Noto Sans CJK SC&quot;,sans-serif" transform="rotate(-30.03 297.5 309.58)" stroke="#000" stroke-width="0.18">3400</text>
<text x="358" y="275.05" font-size="4.4" fill="#000" text-anchor="middle" font-weight="bold" font-family="&quot;Liberation Sans&quot;,&quot;Noto Sans CJK SC&quot;,sans-serif" transform="rotate(-30.03 358 275.05)" stroke="#000" stroke-width="0.18">3400</text>
<text x="419" y="239.8" font-size="4.4" fill="#000" text-anchor="middle" font-weight="bold" font-family="&quot;Liberation Sans&quot;,&quot;Noto Sans CJK SC&quot;,sans-serif" transform="rotate(-30.03 419 239.8)" stroke="#000" stroke-width="0.18">2290</text>
<text x="319.5" y="310" font-size="6.2" fill="#111" text-anchor="middle" font-weight="normal" font-family="&quot;Liberation Sans&quot;,&quot;Noto Sans CJK SC&quot;,sans-serif" transform="rotate(-30.03 319.5 310)">过</text>
<text x="343.3" y="295" font-size="6.2" fill="#111" text-anchor="middle" font-weight="normal" font-family="&quot;Liberation Sans&quot;,&quot;Noto Sans CJK SC&quot;,sans-serif" transform="rotate(-30.03 343.3 295)">道</text>
<line x1="90" y1="413" x2="96" y2="416.4" stroke="#3c3cdc" stroke-width="0.5"/>
<line x1="96" y1="416.4" x2="98" y2="415.2" stroke="#3c3cdc" stroke-width="0.5"/>
<text x="65" y="387.6" font-size="2.4" fill="#111" text-anchor="middle" font-weight="normal" font-family="&quot;Liberation Sans&quot;,&quot;Noto Sans CJK SC&quot;,sans-serif" transform="rotate(29.25 65 387.6)">天平</text>
<text x="92" y="403.2" font-size="2.4" fill="#111" text-anchor="middle" font-weight="normal" font-family="&quot;Liberation Sans&quot;,&quot;Noto Sans CJK SC&quot;,sans-serif" transform="rotate(-30.03 92 403.2)">PC</text>
<line x1="255" y1="326.63" x2="240.2" y2="319.2" stroke="#111" stroke-width="0.5"/>
<path d="M240.2,319.2 Q234.5,326 239.5,335.47" fill="none" stroke="#444" stroke-width="0.5"/>
<polygon points="455.4,93.6 471,102.34 471,63.94 455.4,55.2" fill="#fff" stroke="#222" stroke-width="0.55"/>
<polygon points="471,102.34 478.6,97.94 478.6,59.54 471,63.94" fill="#fff" stroke="#222" stroke-width="0.55"/>
<polygon points="455.4,55.2 471,63.94 478.6,59.54 463,50.81" fill="#fff" stroke="#222" stroke-width="0.55"/>
<polygon points="456.3,92.9 470.1,100.63 470.1,64.63 456.3,56.9" fill="none" stroke="#111" stroke-width="0.6"/>
<line x1="463.2" y1="96.77" x2="463.2" y2="64.07" stroke="#111" stroke-width="0.8"/>
<line x1="456.3" y1="60.2" x2="470.1" y2="67.93" stroke="#111" stroke-width="0.6"/>
<polygon points="457.6,72.43 462,74.9 462,66.9 457.6,64.43" fill="#fff" stroke="#111" stroke-width="0.6"/>
<rect x="459.2" y="68.56" width="1.3" height="2.2" fill="#19b5d8"/>
<polygon points="464.8,76.46 469.2,78.93 469.2,70.93 464.8,68.46" fill="#fff" stroke="#111" stroke-width="0.6"/>
<rect x="466.4" y="72.6" width="1.3" height="2.2" fill="#19b5d8"/>
<line x1="462.2" y1="79.01" x2="462.2" y2="83.01" stroke="#111" stroke-width="0.9"/>
<circle cx="457.4" cy="59.12" r="0.6" fill="none" stroke="#111" stroke-width="0.4"/>
<circle cx="468" cy="65.06" r="0.6" fill="none" stroke="#111" stroke-width="0.4"/>
<polygon points="477.2,58 477.2,55.6 479.8,55.6 479.8,58 487,69.2 480,72.3 472,66.2" fill="#fff" stroke="#111" stroke-width="0.55"/>
<line x1="472" y1="66.2" x2="479.5" y2="67.6" stroke="#111" stroke-width="0.4"/>
<line x1="479.5" y1="67.6" x2="487" y2="69.2" stroke="#111" stroke-width="0.4"/>
<ellipse cx="478.5" cy="55.6" rx="1.4" ry="0.7" fill="#fff" stroke="#111" stroke-width="0.45"/>
<line x1="478.6" y1="72" x2="478.6" y2="86" stroke="#111" stroke-width="0.5"/>
<polygon points="458.5,108 511.5,137.68 524.2,130.34 524.2,117.34 471.2,87.66 458.5,95" fill="#fff" stroke="none" stroke-width="0"/>
<polygon points="458.5,95 511.5,124.68 524.2,117.34 471.2,87.66" fill="none" stroke="#111" stroke-width="0.55"/>
<line x1="458.5" y1="108" x2="458.5" y2="95" stroke="#111" stroke-width="0.55"/>
<line x1="511.5" y1="137.68" x2="511.5" y2="124.68" stroke="#111" stroke-width="0.55"/>
<line x1="524.2" y1="130.34" x2="524.2" y2="117.34" stroke="#111" stroke-width="0.55"/>
<line x1="511.5" y1="137.68" x2="524.2" y2="130.34" stroke="#111" stroke-width="0.5"/>
<line x1="458.5" y1="96.3" x2="511.5" y2="125.98" stroke="#111" stroke-width="0.5"/>
<line x1="511.5" y1="125.98" x2="524.2" y2="118.64" stroke="#111" stroke-width="0.5"/>
<polygon points="459.2,106.69 466.2,110.61 466.2,101.31 459.2,97.39" fill="none" stroke="#111" stroke-width="0.55"/>
<line x1="459.2" y1="100.39" x2="466.2" y2="104.31" stroke="#444" stroke-width="0.4"/>
<line x1="461.3" y1="103.17" x2="461.3" y2="105.57" stroke="#111" stroke-width="0.7"/>
<line x1="459.2" y1="106.89" x2="459.2" y2="96.79" stroke="#111" stroke-width="0.9"/>
<line x1="459.2" y1="106.69" x2="459.2" y2="108.19" stroke="#111" stroke-width="0.6"/>
<polygon points="467.2,111.17 482.2,119.57 482.2,110.27 467.2,101.87" fill="none" stroke="#111" stroke-width="0.55"/>
<line x1="467.2" y1="104.87" x2="482.2" y2="113.27" stroke="#444" stroke-width="0.4"/>
<line x1="474.7" y1="110.67" x2="474.7" y2="113.07" stroke="#111" stroke-width="0.7"/>
<line x1="470.5" y1="105.02" x2="472.6" y2="106.2" stroke="#111" stroke-width="0.55"/>
<line x1="476.8" y1="108.55" x2="478.9" y2="109.72" stroke="#111" stroke-width="0.55"/>
<line x1="474.7" y1="106.07" x2="474.7" y2="109.07" stroke="#444" stroke-width="0.4"/>
<line x1="467.2" y1="111.37" x2="467.2" y2="101.27" stroke="#111" stroke-width="0.9"/>
<line x1="467.2" y1="111.17" x2="467.2" y2="112.67" stroke="#111" stroke-width="0.6"/>
<polygon points="483.2,120.13 498.2,128.53 498.2,119.23 483.2,110.83" fill="none" stroke="#111" stroke-width="0.55"/>
<line x1="483.2" y1="113.83" x2="498.2" y2="122.23" stroke="#444" stroke-width="0.4"/>
<line x1="490.7" y1="119.63" x2="490.7" y2="122.03" stroke="#111" stroke-width="0.7"/>
<line x1="486.5" y1="113.98" x2="488.6" y2="115.16" stroke="#111" stroke-width="0.55"/>
<line x1="492.8" y1="117.51" x2="494.9" y2="118.68" stroke="#111" stroke-width="0.55"/>
<line x1="490.7" y1="115.03" x2="490.7" y2="118.03" stroke="#444" stroke-width="0.4"/>
<line x1="483.2" y1="120.33" x2="483.2" y2="110.23" stroke="#111" stroke-width="0.9"/>
<line x1="483.2" y1="120.13" x2="483.2" y2="121.63" stroke="#111" stroke-width="0.6"/>
<polygon points="499.2,129.09 506.2,133.01 506.2,123.71 499.2,119.79" fill="none" stroke="#111" stroke-width="0.55"/>
<line x1="499.2" y1="122.79" x2="506.2" y2="126.71" stroke="#444" stroke-width="0.4"/>
<line x1="501.3" y1="125.57" x2="501.3" y2="127.97" stroke="#111" stroke-width="0.7"/>
<line x1="499.2" y1="129.29" x2="499.2" y2="119.19" stroke="#111" stroke-width="0.9"/>
<line x1="499.2" y1="129.09" x2="499.2" y2="130.59" stroke="#111" stroke-width="0.6"/>
<polygon points="523.4,130.8 523.4,119.1 521.6,120.14 521.6,131.84" fill="#ddd" stroke="#444" stroke-width="0.45"/>
<polygon points="474.2,90.36 477.4,92.16 478.8,91.35 475.6,89.55" fill="#111" stroke="#111" stroke-width="0.3"/>
<polygon points="475.6,87.95 478.8,89.75 477.4,92.16 474.2,90.36" fill="#111" stroke="#111" stroke-width="0.3"/>
<polygon points="491.7,100.16 494.9,101.96 496.3,101.15 493.1,99.35" fill="#111" stroke="#111" stroke-width="0.3"/>
<polygon points="493.1,97.75 496.3,99.55 494.9,101.96 491.7,100.16" fill="#111" stroke="#111" stroke-width="0.3"/>
<polygon points="509,109.85 512.2,111.64 513.6,110.83 510.4,109.04" fill="#111" stroke="#111" stroke-width="0.3"/>
<polygon points="510.4,107.44 513.6,109.23 512.2,111.64 509,109.85" fill="#111" stroke="#111" stroke-width="0.3"/>
<rect x="505.7" y="61.9" width="3" height="4.6" rx="1" fill="#fff" stroke="#444" stroke-width="0.45"/>
<polyline points="507.2,66.5 507.6,71.5 502.2,75.8 503,82.5 500.5,86.5" fill="none" stroke="#444" stroke-width="0.8"/>
<circle cx="507.6" cy="71.5" r="0.9" fill="#e03030"/>
<circle cx="502.2" cy="75.8" r="0.9" fill="#e03030"/>
<circle cx="503" cy="82.5" r="0.9" fill="#e03030"/>
<polygon points="500.5,86 495.3,89.9 504.4,92.7 505.7,91.1" fill="#fff" stroke="#111" stroke-width="0.55"/>
<line x1="495.3" y1="89.9" x2="505.7" y2="91.1" stroke="#111" stroke-width="0.4"/>
<polygon points="395.1,129.3 411.1,138.26 411.1,98.96 395.1,90" fill="#fff" stroke="#222" stroke-width="0.55"/>
<polygon points="411.1,138.26 418.7,133.87 418.7,94.57 411.1,98.96" fill="#fff" stroke="#222" stroke-width="0.55"/>
<polygon points="395.1,90 411.1,98.96 418.7,94.57 402.7,85.61" fill="#fff" stroke="#222" stroke-width="0.55"/>
<polygon points="396,128.6 410.2,136.56 410.2,99.66 396,91.7" fill="none" stroke="#111" stroke-width="0.6"/>
<line x1="403.1" y1="132.58" x2="403.1" y2="98.98" stroke="#111" stroke-width="0.8"/>
<line x1="396" y1="95" x2="410.2" y2="102.96" stroke="#111" stroke-width="0.6"/>
<polygon points="397.3,107.23 401.7,109.7 401.7,101.7 397.3,99.23" fill="#fff" stroke="#111" stroke-width="0.6"/>
<rect x="398.9" y="103.36" width="1.3" height="2.2" fill="#19b5d8"/>
<polygon points="404.7,111.38 409.1,113.84 409.1,105.84 404.7,103.38" fill="#fff" stroke="#111" stroke-width="0.6"/>
<rect x="406.3" y="107.51" width="1.3" height="2.2" fill="#19b5d8"/>
<line x1="402.1" y1="113.92" x2="402.1" y2="117.92" stroke="#111" stroke-width="0.9"/>
<circle cx="397.1" cy="93.92" r="0.6" fill="none" stroke="#111" stroke-width="0.4"/>
<circle cx="408.1" cy="100.08" r="0.6" fill="none" stroke="#111" stroke-width="0.4"/>
<rect x="424.5" y="88.4" width="3" height="4.6" rx="1" fill="#fff" stroke="#444" stroke-width="0.45"/>
<polyline points="426,93 426.2,94 420.9,97.8 421.6,105.2 419.6,109.3" fill="none" stroke="#444" stroke-width="0.8"/>
<circle cx="426.2" cy="94" r="0.9" fill="#e03030"/>
<circle cx="420.9" cy="97.8" r="0.9" fill="#e03030"/>
<circle cx="421.6" cy="105.2" r="0.9" fill="#e03030"/>
<polygon points="419.6,108.8 414.4,112.7 423.5,115.5 424.8,113.9" fill="#fff" stroke="#111" stroke-width="0.55"/>
<line x1="414.4" y1="112.7" x2="424.8" y2="113.9" stroke="#111" stroke-width="0.4"/>
<line x1="418.9" y1="115.2" x2="418.9" y2="123" stroke="#111" stroke-width="0.5"/>
<polygon points="398.1,142.7 449.3,171.37 462,164.03 462,151.03 410.8,122.36 398.1,129.7" fill="#fff" stroke="none" stroke-width="0"/>
<polygon points="398.1,129.7 449.3,158.37 462,151.03 410.8,122.36" fill="none" stroke="#111" stroke-width="0.55"/>
<line x1="398.1" y1="142.7" x2="398.1" y2="129.7" stroke="#111" stroke-width="0.55"/>
<line x1="449.3" y1="171.37" x2="449.3" y2="158.37" stroke="#111" stroke-width="0.55"/>
<line x1="462" y1="164.03" x2="462" y2="151.03" stroke="#111" stroke-width="0.55"/>
<line x1="449.3" y1="171.37" x2="462" y2="164.03" stroke="#111" stroke-width="0.5"/>
<line x1="398.1" y1="131" x2="449.3" y2="159.67" stroke="#111" stroke-width="0.5"/>
<line x1="449.3" y1="159.67" x2="462" y2="152.33" stroke="#111" stroke-width="0.5"/>
<polygon points="398.8,141.39 405.8,145.31 405.8,136.01 398.8,132.09" fill="none" stroke="#111" stroke-width="0.55"/>
<line x1="398.8" y1="135.09" x2="405.8" y2="139.01" stroke="#444" stroke-width="0.4"/>
<line x1="400.9" y1="137.87" x2="400.9" y2="140.27" stroke="#111" stroke-width="0.7"/>
<line x1="398.8" y1="141.59" x2="398.8" y2="131.49" stroke="#111" stroke-width="0.9"/>
<line x1="398.8" y1="141.39" x2="398.8" y2="142.89" stroke="#111" stroke-width="0.6"/>
<polygon points="406.8,145.87 421.8,154.27 421.8,144.97 406.8,136.57" fill="none" stroke="#111" stroke-width="0.55"/>
<line x1="406.8" y1="139.57" x2="421.8" y2="147.97" stroke="#444" stroke-width="0.4"/>
<line x1="414.3" y1="145.37" x2="414.3" y2="147.77" stroke="#111" stroke-width="0.7"/>
<line x1="410.1" y1="139.72" x2="412.2" y2="140.9" stroke="#111" stroke-width="0.55"/>
<line x1="416.4" y1="143.25" x2="418.5" y2="144.42" stroke="#111" stroke-width="0.55"/>
<line x1="414.3" y1="140.77" x2="414.3" y2="143.77" stroke="#444" stroke-width="0.4"/>
<line x1="406.8" y1="146.07" x2="406.8" y2="135.97" stroke="#111" stroke-width="0.9"/>
<line x1="406.8" y1="145.87" x2="406.8" y2="147.37" stroke="#111" stroke-width="0.6"/>
<polygon points="422.8,154.83 437.8,163.23 437.8,153.93 422.8,145.53" fill="none" stroke="#111" stroke-width="0.55"/>
<line x1="422.8" y1="148.53" x2="437.8" y2="156.93" stroke="#444" stroke-width="0.4"/>
<line x1="430.3" y1="154.33" x2="430.3" y2="156.73" stroke="#111" stroke-width="0.7"/>
<line x1="426.1" y1="148.68" x2="428.2" y2="149.86" stroke="#111" stroke-width="0.55"/>
<line x1="432.4" y1="152.21" x2="434.5" y2="153.38" stroke="#111" stroke-width="0.55"/>
<line x1="430.3" y1="149.73" x2="430.3" y2="152.73" stroke="#444" stroke-width="0.4"/>
<line x1="422.8" y1="155.03" x2="422.8" y2="144.93" stroke="#111" stroke-width="0.9"/>
<line x1="422.8" y1="154.83" x2="422.8" y2="156.33" stroke="#111" stroke-width="0.6"/>
<polygon points="438.8,163.79 448.6,169.28 448.6,159.98 438.8,154.49" fill="none" stroke="#111" stroke-width="0.55"/>
<line x1="438.8" y1="157.49" x2="448.6" y2="162.98" stroke="#444" stroke-width="0.4"/>
<line x1="441.74" y1="160.74" x2="441.74" y2="163.14" stroke="#111" stroke-width="0.7"/>
<line x1="438.8" y1="163.99" x2="438.8" y2="153.89" stroke="#111" stroke-width="0.9"/>
<line x1="438.8" y1="163.79" x2="438.8" y2="165.29" stroke="#111" stroke-width="0.6"/>
<polygon points="461.2,164.49 461.2,152.79 459.4,153.83 459.4,165.53" fill="#ddd" stroke="#444" stroke-width="0.45"/>
<polygon points="416.6,126.63 419.8,128.42 421.2,127.61 418,125.82" fill="#111" stroke="#111" stroke-width="0.3"/>
<polygon points="418,124.22 421.2,126.01 419.8,128.42 416.6,126.63" fill="#111" stroke="#111" stroke-width="0.3"/>
<polygon points="434.1,136.43 437.3,138.22 438.7,137.41 435.5,135.62" fill="#111" stroke="#111" stroke-width="0.3"/>
<polygon points="435.5,134.02 438.7,135.81 437.3,138.22 434.1,136.43" fill="#111" stroke="#111" stroke-width="0.3"/>
<polygon points="451.3,146.06 454.5,147.86 455.9,147.05 452.7,145.25" fill="#111" stroke="#111" stroke-width="0.3"/>
<polygon points="452.7,143.65 455.9,145.45 454.5,147.86 451.3,146.06" fill="#111" stroke="#111" stroke-width="0.3"/>
<rect x="445.9" y="99.4" width="3" height="4.6" rx="1" fill="#fff" stroke="#444" stroke-width="0.45"/>
<polyline points="447.4,104 447.7,106.5 441.7,110.1 442.3,117.6 441,120.8" fill="none" stroke="#444" stroke-width="0.8"/>
<circle cx="447.7" cy="106.5" r="0.9" fill="#e03030"/>
<circle cx="441.7" cy="110.1" r="0.9" fill="#e03030"/>
<circle cx="442.3" cy="117.6" r="0.9" fill="#e03030"/>
<polygon points="441,120.3 435.6,124.2 445.05,127 446.4,125.4" fill="#fff" stroke="#111" stroke-width="0.55"/>
<line x1="435.6" y1="124.2" x2="446.4" y2="125.4" stroke="#111" stroke-width="0.4"/>
<polyline points="261,390.7 506.1,251.18" fill="none" stroke="#4a4a4a" stroke-width="0.55"/>
<polyline points="263,391.82 508.1,252.3" fill="none" stroke="#e0506a" stroke-width="0.55"/>
<polyline points="265,392.94 510.1,253.42" fill="none" stroke="#4a4a4a" stroke-width="0.55"/>
<polyline points="506.1,251.18 598,199.99" fill="none" stroke="#4a4a4a" stroke-width="0.55"/>
<polyline points="508.1,252.3 600,201.11" fill="none" stroke="#e0506a" stroke-width="0.55"/>
<polyline points="510.1,253.42 602,202.23" fill="none" stroke="#4a4a4a" stroke-width="0.55"/>
<line x1="506.1" y1="251.18" x2="510.1" y2="253.42" stroke="#4a4a4a" stroke-width="0.55"/>
<path d="M511.8,253.3 Q514,257 518,255 L532.3,247.3 L537.5,250.2" fill="none" stroke="#111" stroke-width="0.5"/>
<line x1="461.5" y1="157.5" x2="476.5" y2="166.7" stroke="#111" stroke-width="0.5"/>
<path d="M476.5,166.7 Q490,158.5 507.2,167.2" fill="none" stroke="#444" stroke-width="0.5"/>
<line x1="507.2" y1="167.2" x2="491.6" y2="175.8" stroke="#111" stroke-width="0.5"/>
<line x1="491.6" y1="175.8" x2="502.3" y2="181.7" stroke="#111" stroke-width="0.5"/>
<line x1="492.4" y1="175.2" x2="503.1" y2="181.1" stroke="#111" stroke-width="0.5"/>
<polygon points="564.8,220 580.37,228.72 580.37,191.42 564.8,182.7" fill="#fff" stroke="#222" stroke-width="0.55"/>
<polygon points="580.37,228.72 588.17,224.21 588.17,186.91 580.37,191.42" fill="#fff" stroke="#222" stroke-width="0.55"/>
<polygon points="564.8,182.7 580.37,191.42 588.17,186.91 572.6,178.19" fill="#fff" stroke="#222" stroke-width="0.55"/>
<polygon points="565.6,219.45 579.57,227.27 579.57,191.97 565.6,184.15" fill="none" stroke="#111" stroke-width="0.7"/>
<polygon points="566.4,205.89 578.77,212.82 578.77,192.72 566.4,185.8" fill="#f4f4f4" stroke="#444" stroke-width="0.5"/>
<line x1="565.6" y1="206.65" x2="579.57" y2="214.47" stroke="#111" stroke-width="0.8"/>
<line x1="572.58" y1="223.36" x2="572.58" y2="188.06" stroke="#111" stroke-width="0.9"/>
<line x1="571.68" y1="208.85" x2="571.68" y2="188.76" stroke="#444" stroke-width="0.4"/>
<line x1="573.48" y1="209.86" x2="573.48" y2="189.76" stroke="#444" stroke-width="0.4"/>
<rect x="568.1" y="199.95" width="1.9" height="1.6" fill="#22cc44"/>
<rect x="575.27" y="205.77" width="1.9" height="1.6" fill="#22cc44"/>
<line x1="566.4" y1="195.85" x2="578.77" y2="202.77" stroke="#111" stroke-width="0.55"/>
<rect x="568.1" y="189.9" width="1.9" height="1.6" fill="#22cc44"/>
<rect x="575.27" y="195.72" width="1.9" height="1.6" fill="#22cc44"/>
<line x1="571.28" y1="212.83" x2="571.28" y2="216.33" stroke="#111" stroke-width="0.8"/>
<line x1="573.88" y1="214.29" x2="573.88" y2="217.79" stroke="#111" stroke-width="0.8"/>
<line x1="572.78" y1="203.67" x2="574.18" y2="200.95" stroke="#111" stroke-width="0.9"/>
<polygon points="580.37,228.72 595.94,237.44 595.94,200.14 580.37,191.42" fill="#fff" stroke="#222" stroke-width="0.55"/>
<polygon points="595.94,237.44 603.74,232.93 603.74,195.63 595.94,200.14" fill="#fff" stroke="#222" stroke-width="0.55"/>
<polygon points="580.37,191.42 595.94,200.14 603.74,195.63 588.17,186.91" fill="#fff" stroke="#222" stroke-width="0.55"/>
<polygon points="581.17,228.17 595.14,235.99 595.14,200.69 581.17,192.87" fill="none" stroke="#111" stroke-width="0.7"/>
<polygon points="581.97,214.61 594.34,221.54 594.34,201.44 581.97,194.52" fill="#f4f4f4" stroke="#444" stroke-width="0.5"/>
<line x1="581.17" y1="215.37" x2="595.14" y2="223.19" stroke="#111" stroke-width="0.8"/>
<line x1="588.15" y1="232.08" x2="588.15" y2="196.78" stroke="#111" stroke-width="0.9"/>
<line x1="587.25" y1="217.57" x2="587.25" y2="197.47" stroke="#444" stroke-width="0.4"/>
<line x1="589.05" y1="218.58" x2="589.05" y2="198.48" stroke="#444" stroke-width="0.4"/>
<rect x="583.67" y="208.67" width="1.9" height="1.6" fill="#22cc44"/>
<rect x="590.84" y="214.49" width="1.9" height="1.6" fill="#22cc44"/>
<line x1="581.97" y1="204.56" x2="594.34" y2="211.49" stroke="#111" stroke-width="0.55"/>
<rect x="583.67" y="198.62" width="1.9" height="1.6" fill="#22cc44"/>
<rect x="590.84" y="204.44" width="1.9" height="1.6" fill="#22cc44"/>
<line x1="586.86" y1="221.55" x2="586.86" y2="225.05" stroke="#111" stroke-width="0.8"/>
<line x1="589.46" y1="223.01" x2="589.46" y2="226.51" stroke="#111" stroke-width="0.8"/>
<line x1="588.36" y1="212.39" x2="589.75" y2="209.67" stroke="#111" stroke-width="0.9"/>
<polygon points="595.94,237.44 611.51,246.16 611.51,208.86 595.94,200.14" fill="#fff" stroke="#222" stroke-width="0.55"/>
<polygon points="611.51,246.16 619.31,241.65 619.31,204.35 611.51,208.86" fill="#fff" stroke="#222" stroke-width="0.55"/>
<polygon points="595.94,200.14 611.51,208.86 619.31,204.35 603.74,195.63" fill="#fff" stroke="#222" stroke-width="0.55"/>
<polygon points="596.74,236.89 610.71,244.71 610.71,209.41 596.74,201.59" fill="none" stroke="#111" stroke-width="0.7"/>
<polygon points="597.54,223.33 609.91,230.26 609.91,210.16 597.54,203.23" fill="#f4f4f4" stroke="#444" stroke-width="0.5"/>
<line x1="596.74" y1="224.09" x2="610.71" y2="231.91" stroke="#111" stroke-width="0.8"/>
<line x1="603.72" y1="240.8" x2="603.72" y2="205.5" stroke="#111" stroke-width="0.9"/>
<line x1="602.82" y1="226.29" x2="602.82" y2="206.19" stroke="#444" stroke-width="0.4"/>
<line x1="604.62" y1="227.3" x2="604.62" y2="207.2" stroke="#444" stroke-width="0.4"/>
<rect x="599.24" y="217.39" width="1.9" height="1.6" fill="#22cc44"/>
<rect x="606.41" y="223.21" width="1.9" height="1.6" fill="#22cc44"/>
<line x1="597.54" y1="213.28" x2="609.91" y2="220.21" stroke="#111" stroke-width="0.55"/>
<rect x="599.24" y="207.34" width="1.9" height="1.6" fill="#22cc44"/>
<rect x="606.41" y="213.16" width="1.9" height="1.6" fill="#22cc44"/>
<line x1="602.42" y1="230.27" x2="602.42" y2="233.77" stroke="#111" stroke-width="0.8"/>
<line x1="605.02" y1="231.73" x2="605.02" y2="235.23" stroke="#111" stroke-width="0.8"/>
<line x1="603.92" y1="221.11" x2="605.32" y2="218.39" stroke="#111" stroke-width="0.9"/>
<polyline points="672,268.5 680,273" fill="none" stroke="#4a4a4a" stroke-width="0.55"/>
<polyline points="669.5,270.2 677,274.5" fill="none" stroke="#e0506a" stroke-width="0.55"/>
<polygon points="610.1,253.4 659.7,281.18 659.7,265.18 610.1,237.4" fill="#fff" stroke="#222" stroke-width="0.55"/>
<polygon points="659.7,281.18 671.8,274.18 671.8,258.18 659.7,265.18" fill="#fff" stroke="#222" stroke-width="0.55"/>
<polygon points="610.1,237.4 659.7,265.18 671.8,258.18 622.2,230.41" fill="#fff" stroke="#222" stroke-width="0.55"/>
<line x1="610.1" y1="238.7" x2="659.7" y2="266.48" stroke="#111" stroke-width="0.5"/>
<line x1="659.7" y1="266.48" x2="671.8" y2="259.48" stroke="#111" stroke-width="0.5"/>
<polygon points="625.6,260.88 643.6,270.96 643.6,257.46 625.6,247.38" fill="#fff" stroke="#111" stroke-width="0.7"/>
<line x1="625.6" y1="250.58" x2="643.6" y2="260.66" stroke="#111" stroke-width="0.5"/>
<line x1="627.6" y1="250.2" x2="632.6" y2="253" stroke="#111" stroke-width="0.6"/>
<line x1="634.6" y1="263.12" x2="634.6" y2="259.12" stroke="#111" stroke-width="0.8"/>
<polygon points="610.1,253.4 611.8,254.35 611.8,239.65 610.1,238.7" fill="#ddd" stroke="#111" stroke-width="0.5"/>
<polygon points="624,261.18 625.7,262.14 625.7,247.44 624,246.48" fill="#ddd" stroke="#111" stroke-width="0.5"/>
<polygon points="643.6,272.16 645.3,273.11 645.3,258.41 643.6,257.46" fill="#ddd" stroke="#111" stroke-width="0.5"/>
<polygon points="657.9,280.17 659.6,281.12 659.6,266.42 657.9,265.47" fill="#ddd" stroke="#111" stroke-width="0.5"/>
<line x1="613.5" y1="252.8" x2="613.5" y2="240.6" stroke="#444" stroke-width="0.4"/>
<line x1="647" y1="271.56" x2="647" y2="259.36" stroke="#444" stroke-width="0.4"/>
<line x1="670.2" y1="275.11" x2="670.2" y2="260.41" stroke="#111" stroke-width="0.5"/>
<line x1="625.6" y1="246.08" x2="637.7" y2="239.09" stroke="#111" stroke-width="0.45"/>
<line x1="643.6" y1="256.16" x2="655.7" y2="249.17" stroke="#111" stroke-width="0.45"/>
<polygon points="615.7,237.58 622.7,233.53 632.7,239.13 625.7,243.18" fill="#777" stroke="#111" stroke-width="0.5"/>
<line x1="617.1" y1="236.77" x2="627.1" y2="242.37" stroke="#ddd" stroke-width="0.3"/>
<line x1="618.5" y1="235.96" x2="628.5" y2="241.56" stroke="#ddd" stroke-width="0.3"/>
<line x1="619.9" y1="235.15" x2="629.9" y2="240.75" stroke="#ddd" stroke-width="0.3"/>
<line x1="621.3" y1="234.34" x2="631.3" y2="239.94" stroke="#ddd" stroke-width="0.3"/>
<line x1="617.7" y1="238.7" x2="624.7" y2="234.65" stroke="#ddd" stroke-width="0.3"/>
<line x1="619.7" y1="239.82" x2="626.7" y2="235.77" stroke="#ddd" stroke-width="0.3"/>
<line x1="621.7" y1="240.94" x2="628.7" y2="236.89" stroke="#ddd" stroke-width="0.3"/>
<line x1="623.7" y1="242.06" x2="630.7" y2="238.01" stroke="#ddd" stroke-width="0.3"/>
<polygon points="630.8,236.7 634,238.49 635.4,237.68 632.2,235.89" fill="#111" stroke="#111" stroke-width="0.3"/>
<polygon points="632.2,234.29 635.4,236.08 634,238.49 630.8,236.7" fill="#111" stroke="#111" stroke-width="0.3"/>
<polygon points="649.2,256.34 656.2,252.29 666.2,257.89 659.2,261.94" fill="#777" stroke="#111" stroke-width="0.5"/>
<line x1="650.6" y1="255.53" x2="660.6" y2="261.13" stroke="#ddd" stroke-width="0.3"/>
<line x1="652" y1="254.72" x2="662" y2="260.32" stroke="#ddd" stroke-width="0.3"/>
<line x1="653.4" y1="253.91" x2="663.4" y2="259.51" stroke="#ddd" stroke-width="0.3"/>
<line x1="654.8" y1="253.1" x2="664.8" y2="258.7" stroke="#ddd" stroke-width="0.3"/>
<line x1="651.2" y1="257.46" x2="658.2" y2="253.41" stroke="#ddd" stroke-width="0.3"/>
<line x1="653.2" y1="258.58" x2="660.2" y2="254.53" stroke="#ddd" stroke-width="0.3"/>
<line x1="655.2" y1="259.7" x2="662.2" y2="255.65" stroke="#ddd" stroke-width="0.3"/>
<line x1="657.2" y1="260.82" x2="664.2" y2="256.77" stroke="#ddd" stroke-width="0.3"/>
<polygon points="664.3,255.46 667.5,257.25 668.9,256.44 665.7,254.65" fill="#111" stroke="#111" stroke-width="0.3"/>
<polygon points="665.7,253.05 668.9,254.84 667.5,257.25 664.3,255.46" fill="#111" stroke="#111" stroke-width="0.3"/>
<polygon points="609.5,304.3 612.5,305.98 612.5,245.98 609.5,244.3" fill="#fff" stroke="#e8606e" stroke-width="0.5"/>
<polygon points="612.5,305.98 616.1,303.9 616.1,243.9 612.5,245.98" fill="#fff" stroke="#e8606e" stroke-width="0.5"/>
<polygon points="609.5,244.3 612.5,245.98 616.1,243.9 613.1,242.22" fill="#fff" stroke="#e8606e" stroke-width="0.5"/>
<polygon points="393.4,319.2 405.4,325.92 507.4,266.96 507.4,252.96 495.4,246.24 393.4,305.2" fill="#fff" stroke="none" stroke-width="0"/>
<polygon points="393.4,305.2 405.4,311.92 507.4,252.96 495.4,246.24" fill="none" stroke="#111" stroke-width="0.55"/>
<line x1="393.4" y1="319.2" x2="393.4" y2="305.2" stroke="#111" stroke-width="0.55"/>
<line x1="405.4" y1="325.92" x2="405.4" y2="311.92" stroke="#111" stroke-width="0.55"/>
<line x1="507.4" y1="266.96" x2="507.4" y2="252.96" stroke="#111" stroke-width="0.55"/>
<line x1="393.4" y1="319.2" x2="405.4" y2="325.92" stroke="#111" stroke-width="0.5"/>
<line x1="405.4" y1="313.22" x2="507.4" y2="254.26" stroke="#111" stroke-width="0.5"/>
<line x1="393.4" y1="306.5" x2="405.4" y2="313.22" stroke="#111" stroke-width="0.5"/>
<polygon points="406.1,323.82 413.1,319.77 413.1,309.47 406.1,313.52" fill="none" stroke="#111" stroke-width="0.55"/>
<line x1="406.1" y1="316.52" x2="413.1" y2="312.47" stroke="#444" stroke-width="0.4"/>
<line x1="411.35" y1="315.08" x2="411.35" y2="317.48" stroke="#111" stroke-width="0.7"/>
<line x1="413.1" y1="319.97" x2="413.1" y2="308.87" stroke="#111" stroke-width="0.9"/>
<line x1="413.1" y1="319.77" x2="413.1" y2="321.27" stroke="#111" stroke-width="0.6"/>
<polygon points="414.1,319.19 429.1,310.52 429.1,300.22 414.1,308.89" fill="none" stroke="#111" stroke-width="0.55"/>
<line x1="414.1" y1="311.89" x2="429.1" y2="303.22" stroke="#444" stroke-width="0.4"/>
<line x1="421.6" y1="309.16" x2="421.6" y2="311.56" stroke="#111" stroke-width="0.7"/>
<line x1="417.4" y1="308.28" x2="419.5" y2="307.07" stroke="#111" stroke-width="0.55"/>
<line x1="423.7" y1="304.64" x2="425.8" y2="303.43" stroke="#111" stroke-width="0.55"/>
<line x1="421.6" y1="304.56" x2="421.6" y2="307.56" stroke="#444" stroke-width="0.4"/>
<line x1="429.1" y1="310.72" x2="429.1" y2="299.62" stroke="#111" stroke-width="0.9"/>
<line x1="429.1" y1="310.52" x2="429.1" y2="312.02" stroke="#111" stroke-width="0.6"/>
<polygon points="430.1,309.94 445.1,301.27 445.1,290.97 430.1,299.64" fill="none" stroke="#111" stroke-width="0.55"/>
<line x1="430.1" y1="302.64" x2="445.1" y2="293.97" stroke="#444" stroke-width="0.4"/>
<line x1="437.6" y1="299.91" x2="437.6" y2="302.31" stroke="#111" stroke-width="0.7"/>
<line x1="433.4" y1="299.04" x2="435.5" y2="297.82" stroke="#111" stroke-width="0.55"/>
<line x1="439.7" y1="295.39" x2="441.8" y2="294.18" stroke="#111" stroke-width="0.55"/>
<line x1="437.6" y1="295.31" x2="437.6" y2="298.31" stroke="#444" stroke-width="0.4"/>
<line x1="445.1" y1="301.47" x2="445.1" y2="290.37" stroke="#111" stroke-width="0.9"/>
<line x1="445.1" y1="301.27" x2="445.1" y2="302.77" stroke="#111" stroke-width="0.6"/>
<polygon points="446.1,300.7 453.1,296.65 453.1,286.35 446.1,290.4" fill="none" stroke="#111" stroke-width="0.55"/>
<line x1="446.1" y1="293.4" x2="453.1" y2="289.35" stroke="#444" stroke-width="0.4"/>
<line x1="451.35" y1="291.96" x2="451.35" y2="294.36" stroke="#111" stroke-width="0.7"/>
<line x1="453.1" y1="296.85" x2="453.1" y2="285.75" stroke="#111" stroke-width="0.9"/>
<line x1="453.1" y1="296.65" x2="453.1" y2="298.15" stroke="#111" stroke-width="0.6"/>
<polygon points="454.1,296.07 469.1,287.4 469.1,277.1 454.1,285.77" fill="none" stroke="#111" stroke-width="0.55"/>
<line x1="454.1" y1="288.77" x2="469.1" y2="280.1" stroke="#444" stroke-width="0.4"/>
<line x1="461.6" y1="286.04" x2="461.6" y2="288.44" stroke="#111" stroke-width="0.7"/>
<line x1="457.4" y1="285.16" x2="459.5" y2="283.95" stroke="#111" stroke-width="0.55"/>
<line x1="463.7" y1="281.52" x2="465.8" y2="280.31" stroke="#111" stroke-width="0.55"/>
<line x1="461.6" y1="281.44" x2="461.6" y2="284.44" stroke="#444" stroke-width="0.4"/>
<line x1="469.1" y1="287.6" x2="469.1" y2="276.5" stroke="#111" stroke-width="0.9"/>
<line x1="469.1" y1="287.4" x2="469.1" y2="288.9" stroke="#111" stroke-width="0.6"/>
<polygon points="470.1,286.82 485.1,278.15 485.1,267.85 470.1,276.52" fill="none" stroke="#111" stroke-width="0.55"/>
<line x1="470.1" y1="279.52" x2="485.1" y2="270.85" stroke="#444" stroke-width="0.4"/>
<line x1="477.6" y1="276.79" x2="477.6" y2="279.19" stroke="#111" stroke-width="0.7"/>
<line x1="473.4" y1="275.92" x2="475.5" y2="274.7" stroke="#111" stroke-width="0.55"/>
<line x1="479.7" y1="272.27" x2="481.8" y2="271.06" stroke="#111" stroke-width="0.55"/>
<line x1="477.6" y1="272.19" x2="477.6" y2="275.19" stroke="#444" stroke-width="0.4"/>
<line x1="485.1" y1="278.35" x2="485.1" y2="267.25" stroke="#111" stroke-width="0.9"/>
<line x1="485.1" y1="278.15" x2="485.1" y2="279.65" stroke="#111" stroke-width="0.6"/>
<polygon points="486.1,277.58 493.1,273.53 493.1,263.23 486.1,267.28" fill="none" stroke="#111" stroke-width="0.55"/>
<line x1="486.1" y1="270.28" x2="493.1" y2="266.23" stroke="#444" stroke-width="0.4"/>
<line x1="491.35" y1="268.84" x2="491.35" y2="271.24" stroke="#111" stroke-width="0.7"/>
<line x1="493.1" y1="273.73" x2="493.1" y2="262.63" stroke="#111" stroke-width="0.9"/>
<line x1="493.1" y1="273.53" x2="493.1" y2="275.03" stroke="#111" stroke-width="0.6"/>
<polygon points="494.1,272.95 506.7,265.67 506.7,255.37 494.1,262.65" fill="none" stroke="#111" stroke-width="0.55"/>
<line x1="494.1" y1="265.65" x2="506.7" y2="258.37" stroke="#444" stroke-width="0.4"/>
<line x1="500.4" y1="263.61" x2="500.4" y2="266.01" stroke="#111" stroke-width="0.7"/>
<line x1="496.87" y1="262.35" x2="498.64" y2="261.33" stroke="#111" stroke-width="0.55"/>
<line x1="502.16" y1="259.29" x2="503.93" y2="258.27" stroke="#111" stroke-width="0.55"/>
<line x1="500.4" y1="259.01" x2="500.4" y2="262.01" stroke="#444" stroke-width="0.4"/>
<line x1="506.7" y1="265.87" x2="506.7" y2="254.77" stroke="#111" stroke-width="0.9"/>
<line x1="506.7" y1="265.67" x2="506.7" y2="267.17" stroke="#111" stroke-width="0.6"/>
<polygon points="394.2,319.65 394.2,306.95 396,307.96 396,320.66" fill="#ddd" stroke="#444" stroke-width="0.45"/>
<line x1="444.2" y1="275.84" x2="456.2" y2="282.56" stroke="#111" stroke-width="0.45"/>
<polygon points="455.1,296.89 457.3,295.62 457.3,283.22 455.1,284.49" fill="#bbb" stroke="#444" stroke-width="0.4"/>
<polygon points="398.8,301.51 402,299.66 403.4,300.44 400.2,302.29" fill="#111" stroke="#111" stroke-width="0.3"/>
<polygon points="398.8,299.91 402,298.06 403.4,300.44 400.2,302.29" fill="#111" stroke="#111" stroke-width="0.3"/>
<polygon points="416.1,291.51 419.3,289.66 420.7,290.44 417.5,292.29" fill="#111" stroke="#111" stroke-width="0.3"/>
<polygon points="416.1,289.91 419.3,288.06 420.7,290.44 417.5,292.29" fill="#111" stroke="#111" stroke-width="0.3"/>
<polygon points="433.3,281.57 436.5,279.72 437.9,280.5 434.7,282.35" fill="#111" stroke="#111" stroke-width="0.3"/>
<polygon points="433.3,279.97 436.5,278.12 437.9,280.5 434.7,282.35" fill="#111" stroke="#111" stroke-width="0.3"/>
<polygon points="450.4,271.69 453.6,269.84 455,270.62 451.8,272.47" fill="#111" stroke="#111" stroke-width="0.3"/>
<polygon points="450.4,270.08 453.6,268.24 455,270.62 451.8,272.47" fill="#111" stroke="#111" stroke-width="0.3"/>
<polygon points="467.4,261.86 470.6,260.01 472,260.79 468.8,262.64" fill="#111" stroke="#111" stroke-width="0.3"/>
<polygon points="467.4,260.26 470.6,258.41 472,260.79 468.8,262.64" fill="#111" stroke="#111" stroke-width="0.3"/>
<polygon points="484.1,252.21 487.3,250.36 488.7,251.14 485.5,252.99" fill="#111" stroke="#111" stroke-width="0.3"/>
<polygon points="484.1,250.61 487.3,248.76 488.7,251.14 485.5,252.99" fill="#111" stroke="#111" stroke-width="0.3"/>
<polygon points="270.8,390.7 282.8,397.42 403.8,327.48 403.8,313.48 391.8,306.76 270.8,376.7" fill="#fff" stroke="none" stroke-width="0"/>
<polygon points="270.8,376.7 282.8,383.42 403.8,313.48 391.8,306.76" fill="none" stroke="#111" stroke-width="0.55"/>
<line x1="270.8" y1="390.7" x2="270.8" y2="376.7" stroke="#111" stroke-width="0.55"/>
<line x1="282.8" y1="397.42" x2="282.8" y2="383.42" stroke="#111" stroke-width="0.55"/>
<line x1="403.8" y1="327.48" x2="403.8" y2="313.48" stroke="#111" stroke-width="0.55"/>
<line x1="270.8" y1="390.7" x2="282.8" y2="397.42" stroke="#111" stroke-width="0.5"/>
<line x1="282.8" y1="384.72" x2="403.8" y2="314.78" stroke="#111" stroke-width="0.5"/>
<line x1="270.8" y1="378" x2="282.8" y2="384.72" stroke="#111" stroke-width="0.5"/>
<polygon points="283.5,395.32 290.5,391.27 290.5,380.97 283.5,385.02" fill="none" stroke="#111" stroke-width="0.55"/>
<line x1="283.5" y1="388.02" x2="290.5" y2="383.97" stroke="#444" stroke-width="0.4"/>
<line x1="288.75" y1="386.58" x2="288.75" y2="388.98" stroke="#111" stroke-width="0.7"/>
<line x1="290.5" y1="391.47" x2="290.5" y2="380.37" stroke="#111" stroke-width="0.9"/>
<line x1="290.5" y1="391.27" x2="290.5" y2="392.77" stroke="#111" stroke-width="0.6"/>
<polygon points="291.5,390.69 306.5,382.02 306.5,371.72 291.5,380.39" fill="none" stroke="#111" stroke-width="0.55"/>
<line x1="291.5" y1="383.39" x2="306.5" y2="374.72" stroke="#444" stroke-width="0.4"/>
<line x1="299" y1="380.66" x2="299" y2="383.06" stroke="#111" stroke-width="0.7"/>
<line x1="294.8" y1="379.78" x2="296.9" y2="378.57" stroke="#111" stroke-width="0.55"/>
<line x1="301.1" y1="376.14" x2="303.2" y2="374.93" stroke="#111" stroke-width="0.55"/>
<line x1="299" y1="376.06" x2="299" y2="379.06" stroke="#444" stroke-width="0.4"/>
<line x1="306.5" y1="382.22" x2="306.5" y2="371.12" stroke="#111" stroke-width="0.9"/>
<line x1="306.5" y1="382.02" x2="306.5" y2="383.52" stroke="#111" stroke-width="0.6"/>
<polygon points="307.5,381.44 322.5,372.77 322.5,362.47 307.5,371.14" fill="none" stroke="#111" stroke-width="0.55"/>
<line x1="307.5" y1="374.14" x2="322.5" y2="365.47" stroke="#444" stroke-width="0.4"/>
<line x1="315" y1="371.41" x2="315" y2="373.81" stroke="#111" stroke-width="0.7"/>
<line x1="310.8" y1="370.54" x2="312.9" y2="369.32" stroke="#111" stroke-width="0.55"/>
<line x1="317.1" y1="366.89" x2="319.2" y2="365.68" stroke="#111" stroke-width="0.55"/>
<line x1="315" y1="366.81" x2="315" y2="369.81" stroke="#444" stroke-width="0.4"/>
<line x1="322.5" y1="372.97" x2="322.5" y2="361.87" stroke="#111" stroke-width="0.9"/>
<line x1="322.5" y1="372.77" x2="322.5" y2="374.27" stroke="#111" stroke-width="0.6"/>
<polygon points="323.5,372.2 330.5,368.15 330.5,357.85 323.5,361.9" fill="none" stroke="#111" stroke-width="0.55"/>
<line x1="323.5" y1="364.9" x2="330.5" y2="360.85" stroke="#444" stroke-width="0.4"/>
<line x1="328.75" y1="363.46" x2="328.75" y2="365.86" stroke="#111" stroke-width="0.7"/>
<line x1="330.5" y1="368.35" x2="330.5" y2="357.25" stroke="#111" stroke-width="0.9"/>
<line x1="330.5" y1="368.15" x2="330.5" y2="369.65" stroke="#111" stroke-width="0.6"/>
<polygon points="331.5,367.57 346.5,358.9 346.5,348.6 331.5,357.27" fill="none" stroke="#111" stroke-width="0.55"/>
<line x1="331.5" y1="360.27" x2="346.5" y2="351.6" stroke="#444" stroke-width="0.4"/>
<line x1="339" y1="357.54" x2="339" y2="359.94" stroke="#111" stroke-width="0.7"/>
<line x1="334.8" y1="356.66" x2="336.9" y2="355.45" stroke="#111" stroke-width="0.55"/>
<line x1="341.1" y1="353.02" x2="343.2" y2="351.81" stroke="#111" stroke-width="0.55"/>
<line x1="339" y1="352.94" x2="339" y2="355.94" stroke="#444" stroke-width="0.4"/>
<line x1="346.5" y1="359.1" x2="346.5" y2="348" stroke="#111" stroke-width="0.9"/>
<line x1="346.5" y1="358.9" x2="346.5" y2="360.4" stroke="#111" stroke-width="0.6"/>
<polygon points="347.5,358.32 362.5,349.65 362.5,339.35 347.5,348.02" fill="none" stroke="#111" stroke-width="0.55"/>
<line x1="347.5" y1="351.02" x2="362.5" y2="342.35" stroke="#444" stroke-width="0.4"/>
<line x1="355" y1="348.29" x2="355" y2="350.69" stroke="#111" stroke-width="0.7"/>
<line x1="350.8" y1="347.42" x2="352.9" y2="346.2" stroke="#111" stroke-width="0.55"/>
<line x1="357.1" y1="343.77" x2="359.2" y2="342.56" stroke="#111" stroke-width="0.55"/>
<line x1="355" y1="343.69" x2="355" y2="346.69" stroke="#444" stroke-width="0.4"/>
<line x1="362.5" y1="349.85" x2="362.5" y2="338.75" stroke="#111" stroke-width="0.9"/>
<line x1="362.5" y1="349.65" x2="362.5" y2="351.15" stroke="#111" stroke-width="0.6"/>
<polygon points="363.5,349.08 370.5,345.03 370.5,334.73 363.5,338.78" fill="none" stroke="#111" stroke-width="0.55"/>
<line x1="363.5" y1="341.78" x2="370.5" y2="337.73" stroke="#444" stroke-width="0.4"/>
<line x1="368.75" y1="340.34" x2="368.75" y2="342.74" stroke="#111" stroke-width="0.7"/>
<line x1="370.5" y1="345.23" x2="370.5" y2="334.13" stroke="#111" stroke-width="0.9"/>
<line x1="370.5" y1="345.03" x2="370.5" y2="346.53" stroke="#111" stroke-width="0.6"/>
<polygon points="371.5,344.45 386.5,335.78 386.5,325.48 371.5,334.15" fill="none" stroke="#111" stroke-width="0.55"/>
<line x1="371.5" y1="337.15" x2="386.5" y2="328.48" stroke="#444" stroke-width="0.4"/>
<line x1="379" y1="334.42" x2="379" y2="336.82" stroke="#111" stroke-width="0.7"/>
<line x1="374.8" y1="333.54" x2="376.9" y2="332.33" stroke="#111" stroke-width="0.55"/>
<line x1="381.1" y1="329.9" x2="383.2" y2="328.69" stroke="#111" stroke-width="0.55"/>
<line x1="379" y1="329.82" x2="379" y2="332.82" stroke="#444" stroke-width="0.4"/>
<line x1="386.5" y1="335.98" x2="386.5" y2="324.88" stroke="#111" stroke-width="0.9"/>
<line x1="386.5" y1="335.78" x2="386.5" y2="337.28" stroke="#111" stroke-width="0.6"/>
<polygon points="387.5,335.2 403.1,326.19 403.1,315.89 387.5,324.9" fill="none" stroke="#111" stroke-width="0.55"/>
<line x1="387.5" y1="327.9" x2="403.1" y2="318.89" stroke="#444" stroke-width="0.4"/>
<line x1="395.3" y1="325" x2="395.3" y2="327.4" stroke="#111" stroke-width="0.7"/>
<line x1="390.93" y1="324.22" x2="393.12" y2="322.96" stroke="#111" stroke-width="0.55"/>
<line x1="397.48" y1="320.43" x2="399.67" y2="319.17" stroke="#111" stroke-width="0.55"/>
<line x1="395.3" y1="320.4" x2="395.3" y2="323.4" stroke="#444" stroke-width="0.4"/>
<line x1="403.1" y1="326.39" x2="403.1" y2="315.29" stroke="#111" stroke-width="0.9"/>
<line x1="403.1" y1="326.19" x2="403.1" y2="327.69" stroke="#111" stroke-width="0.6"/>
<polygon points="271.6,391.15 271.6,378.45 273.4,379.46 273.4,392.16" fill="#ddd" stroke="#444" stroke-width="0.45"/>
<line x1="322.1" y1="347.05" x2="334.1" y2="353.77" stroke="#111" stroke-width="0.45"/>
<polygon points="333,368.1 335.2,366.83 335.2,354.43 333,355.7" fill="#bbb" stroke="#444" stroke-width="0.4"/>
<line x1="355.1" y1="327.97" x2="367.1" y2="334.69" stroke="#111" stroke-width="0.45"/>
<polygon points="366,349.03 368.2,347.76 368.2,335.36 366,336.63" fill="#bbb" stroke="#444" stroke-width="0.4"/>
<polygon points="275.8,373.24 279,371.39 280.4,372.18 277.2,374.03" fill="#111" stroke="#111" stroke-width="0.3"/>
<polygon points="275.8,371.64 279,369.79 280.4,372.18 277.2,374.03" fill="#111" stroke="#111" stroke-width="0.3"/>
<polygon points="293.2,363.18 296.4,361.33 297.8,362.12 294.6,363.97" fill="#111" stroke="#111" stroke-width="0.3"/>
<polygon points="293.2,361.58 296.4,359.73 297.8,362.12 294.6,363.97" fill="#111" stroke="#111" stroke-width="0.3"/>
<polygon points="309.8,353.59 313,351.74 314.4,352.52 311.2,354.37" fill="#111" stroke="#111" stroke-width="0.3"/>
<polygon points="309.8,351.99 313,350.14 314.4,352.52 311.2,354.37" fill="#111" stroke="#111" stroke-width="0.3"/>
<polygon points="327.9,343.13 331.1,341.28 332.5,342.06 329.3,343.91" fill="#111" stroke="#111" stroke-width="0.3"/>
<polygon points="327.9,341.53 331.1,339.68 332.5,342.06 329.3,343.91" fill="#111" stroke="#111" stroke-width="0.3"/>
<polygon points="343.9,333.88 347.1,332.03 348.5,332.81 345.3,334.66" fill="#111" stroke="#111" stroke-width="0.3"/>
<polygon points="343.9,332.28 347.1,330.43 348.5,332.81 345.3,334.66" fill="#111" stroke="#111" stroke-width="0.3"/>
<polygon points="361.3,323.82 364.5,321.97 365.9,322.76 362.7,324.61" fill="#111" stroke="#111" stroke-width="0.3"/>
<polygon points="361.3,322.22 364.5,320.37 365.9,322.76 362.7,324.61" fill="#111" stroke="#111" stroke-width="0.3"/>
<polygon points="378.4,313.94 381.6,312.09 383,312.87 379.8,314.72" fill="#111" stroke="#111" stroke-width="0.3"/>
<polygon points="378.4,312.34 381.6,310.49 383,312.87 379.8,314.72" fill="#111" stroke="#111" stroke-width="0.3"/>
<polygon points="412.6,306.4 417.4,303.6 417.4,318.1 412.6,320.9" fill="#fff" stroke="#111" stroke-width="0.6"/>
<polygon points="417.4,303.6 418.6,304.3 418.6,318.8 417.4,318.1" fill="#ccc" stroke="#111" stroke-width="0.5"/>
<polyline points="419.8,316.9 419.8,310.9 422.4,309.6 424.8,311.8" fill="none" stroke="#111" stroke-width="1"/>
<circle cx="421.4" cy="312.8" r="1.2" fill="#111"/>
<polygon points="421.8,315.9 427.3,318.9 424.8,320.4 419.3,317.4" fill="none" stroke="#111" stroke-width="0.5"/>
<polygon points="472.6,308.3 524,337.08 548.9,322.69 548.9,308.69 497.5,279.91 472.6,294.3" fill="#fff" stroke="none" stroke-width="0"/>
<polygon points="472.6,294.3 524,323.08 548.9,308.69 497.5,279.91" fill="none" stroke="#111" stroke-width="0.55"/>
<line x1="472.6" y1="308.3" x2="472.6" y2="294.3" stroke="#111" stroke-width="0.55"/>
<line x1="524" y1="337.08" x2="524" y2="323.08" stroke="#111" stroke-width="0.55"/>
<line x1="548.9" y1="322.69" x2="548.9" y2="308.69" stroke="#111" stroke-width="0.55"/>
<line x1="524" y1="337.08" x2="548.9" y2="322.69" stroke="#111" stroke-width="0.5"/>
<line x1="472.6" y1="295.6" x2="524" y2="324.38" stroke="#111" stroke-width="0.5"/>
<line x1="524" y1="324.38" x2="548.9" y2="309.99" stroke="#111" stroke-width="0.5"/>
<polygon points="473.3,306.99 480.3,310.91 480.3,300.61 473.3,296.69" fill="none" stroke="#111" stroke-width="0.55"/>
<line x1="473.3" y1="299.69" x2="480.3" y2="303.61" stroke="#444" stroke-width="0.4"/>
<line x1="475.4" y1="302.47" x2="475.4" y2="304.87" stroke="#111" stroke-width="0.7"/>
<line x1="473.3" y1="307.19" x2="473.3" y2="296.09" stroke="#111" stroke-width="0.9"/>
<line x1="473.3" y1="306.99" x2="473.3" y2="308.49" stroke="#111" stroke-width="0.6"/>
<polygon points="481.3,311.47 496.3,319.87 496.3,309.57 481.3,301.17" fill="none" stroke="#111" stroke-width="0.55"/>
<line x1="481.3" y1="304.17" x2="496.3" y2="312.57" stroke="#444" stroke-width="0.4"/>
<line x1="488.8" y1="309.97" x2="488.8" y2="312.37" stroke="#111" stroke-width="0.7"/>
<line x1="484.6" y1="304.32" x2="486.7" y2="305.5" stroke="#111" stroke-width="0.55"/>
<line x1="490.9" y1="307.85" x2="493" y2="309.02" stroke="#111" stroke-width="0.55"/>
<line x1="488.8" y1="305.37" x2="488.8" y2="308.37" stroke="#444" stroke-width="0.4"/>
<line x1="481.3" y1="311.67" x2="481.3" y2="300.57" stroke="#111" stroke-width="0.9"/>
<line x1="481.3" y1="311.47" x2="481.3" y2="312.97" stroke="#111" stroke-width="0.6"/>
<polygon points="497.3,320.43 512.3,328.83 512.3,318.53 497.3,310.13" fill="none" stroke="#111" stroke-width="0.55"/>
<line x1="497.3" y1="313.13" x2="512.3" y2="321.53" stroke="#444" stroke-width="0.4"/>
<line x1="504.8" y1="318.93" x2="504.8" y2="321.33" stroke="#111" stroke-width="0.7"/>
<line x1="500.6" y1="313.28" x2="502.7" y2="314.46" stroke="#111" stroke-width="0.55"/>
<line x1="506.9" y1="316.81" x2="509" y2="317.98" stroke="#111" stroke-width="0.55"/>
<line x1="504.8" y1="314.33" x2="504.8" y2="317.33" stroke="#444" stroke-width="0.4"/>
<line x1="497.3" y1="320.63" x2="497.3" y2="309.53" stroke="#111" stroke-width="0.9"/>
<line x1="497.3" y1="320.43" x2="497.3" y2="321.93" stroke="#111" stroke-width="0.6"/>
<polygon points="513.3,329.39 523.3,334.99 523.3,324.69 513.3,319.09" fill="none" stroke="#111" stroke-width="0.55"/>
<line x1="513.3" y1="322.09" x2="523.3" y2="327.69" stroke="#444" stroke-width="0.4"/>
<line x1="516.3" y1="325.37" x2="516.3" y2="327.77" stroke="#111" stroke-width="0.7"/>
<line x1="513.3" y1="329.59" x2="513.3" y2="318.49" stroke="#111" stroke-width="0.9"/>
<line x1="513.3" y1="329.39" x2="513.3" y2="330.89" stroke="#111" stroke-width="0.6"/>
<polygon points="548.1,323.15 548.1,310.45 546.3,311.49 546.3,324.19" fill="#ddd" stroke="#444" stroke-width="0.45"/>
<line x1="532.3" y1="331.09" x2="532.3" y2="319.59" stroke="#111" stroke-width="0.6"/>
<line x1="540.6" y1="326.29" x2="540.6" y2="314.79" stroke="#111" stroke-width="0.6"/>
<line x1="525" y1="335.11" x2="547.9" y2="321.87" stroke="#111" stroke-width="0.5"/>
<polygon points="483.95,281.22 533.95,309.22 533.95,307.22 483.95,279.22" fill="#fff" stroke="#111" stroke-width="0.55"/>
<polygon points="533.95,309.22 537.35,307.26 537.35,305.26 533.95,307.22" fill="#fff" stroke="#111" stroke-width="0.55"/>
<polygon points="483.95,279.22 533.95,307.22 537.35,305.26 487.35,277.26" fill="#fff" stroke="#111" stroke-width="0.55"/>
<polygon points="483.95,274.82 533.95,302.82 533.95,300.82 483.95,272.82" fill="#fff" stroke="#111" stroke-width="0.55"/>
<polygon points="533.95,302.82 537.35,300.86 537.35,298.86 533.95,300.82" fill="#fff" stroke="#111" stroke-width="0.55"/>
<polygon points="483.95,272.82 533.95,300.82 537.35,298.86 487.35,270.86" fill="#fff" stroke="#111" stroke-width="0.55"/>
<polygon points="484.05,288.36 485.85,289.37 485.85,273.97 484.05,272.96" fill="#999" stroke="#111" stroke-width="0.6"/>
<polygon points="485.85,289.37 487.85,288.22 487.85,272.82 485.85,273.97" fill="#ccc" stroke="#111" stroke-width="0.5"/>
<polygon points="508.15,301.86 509.95,302.87 509.95,295.47 508.15,294.46" fill="#999" stroke="#111" stroke-width="0.6"/>
<polygon points="509.95,302.87 511.95,301.71 511.95,294.31 509.95,295.47" fill="#ccc" stroke="#111" stroke-width="0.5"/>
<polygon points="532.25,315.36 534.05,316.36 534.05,300.96 532.25,299.96" fill="#999" stroke="#111" stroke-width="0.6"/>
<polygon points="534.05,316.36 536.05,315.21 536.05,299.81 534.05,300.96" fill="#ccc" stroke="#111" stroke-width="0.5"/>
<polygon points="538,276 553.2,284.51 553.2,247.01 538,238.5" fill="#fff" stroke="#222" stroke-width="0.55"/>
<polygon points="553.2,284.51 560.8,280.12 560.8,242.62 553.2,247.01" fill="#fff" stroke="#222" stroke-width="0.55"/>
<polygon points="538,238.5 553.2,247.01 560.8,242.62 545.6,234.11" fill="#fff" stroke="#222" stroke-width="0.55"/>
<polygon points="538.8,275.45 552.4,283.06 552.4,247.56 538.8,239.95" fill="none" stroke="#111" stroke-width="0.7"/>
<polygon points="539.6,261.82 551.6,268.54 551.6,248.32 539.6,241.6" fill="#f4f4f4" stroke="#444" stroke-width="0.5"/>
<line x1="538.8" y1="262.57" x2="552.4" y2="270.19" stroke="#111" stroke-width="0.8"/>
<line x1="545.6" y1="279.26" x2="545.6" y2="243.76" stroke="#111" stroke-width="0.9"/>
<line x1="544.7" y1="264.68" x2="544.7" y2="244.45" stroke="#444" stroke-width="0.4"/>
<line x1="546.5" y1="265.69" x2="546.5" y2="245.46" stroke="#444" stroke-width="0.4"/>
<rect x="541.2" y="255.78" width="1.9" height="1.6" fill="#22cc44"/>
<rect x="548.2" y="261.52" width="1.9" height="1.6" fill="#22cc44"/>
<line x1="539.6" y1="251.71" x2="551.6" y2="258.43" stroke="#111" stroke-width="0.55"/>
<rect x="541.2" y="245.67" width="1.9" height="1.6" fill="#22cc44"/>
<rect x="548.2" y="251.41" width="1.9" height="1.6" fill="#22cc44"/>
<line x1="544.3" y1="268.65" x2="544.3" y2="272.15" stroke="#111" stroke-width="0.8"/>
<line x1="546.9" y1="270.11" x2="546.9" y2="273.61" stroke="#111" stroke-width="0.8"/>
<line x1="545.8" y1="259.49" x2="547.2" y2="256.78" stroke="#111" stroke-width="0.9"/>
<polygon points="553.2,284.51 568.4,293.02 568.4,255.52 553.2,247.01" fill="#fff" stroke="#222" stroke-width="0.55"/>
<polygon points="568.4,293.02 576,288.63 576,251.13 568.4,255.52" fill="#fff" stroke="#222" stroke-width="0.55"/>
<polygon points="553.2,247.01 568.4,255.52 576,251.13 560.8,242.62" fill="#fff" stroke="#222" stroke-width="0.55"/>
<polygon points="554,283.96 567.6,291.58 567.6,256.08 554,248.46" fill="none" stroke="#111" stroke-width="0.7"/>
<polygon points="554.8,282.33 566.8,289.05 566.8,256.83 554.8,250.11" fill="#ececec" stroke="#444" stroke-width="0.5"/>
<line x1="554" y1="283.08" x2="567.6" y2="290.7" stroke="#111" stroke-width="0.8"/>
<line x1="560.8" y1="287.77" x2="560.8" y2="252.27" stroke="#111" stroke-width="0.9"/>
<line x1="559.9" y1="285.19" x2="559.9" y2="252.96" stroke="#444" stroke-width="0.4"/>
<line x1="561.7" y1="286.2" x2="561.7" y2="253.97" stroke="#444" stroke-width="0.4"/>
<line x1="559.6" y1="282.82" x2="562.6" y2="281.7" stroke="#111" stroke-width="0.9"/>
<line x1="556.24" y1="281.64" x2="559.58" y2="283.51" stroke="#444" stroke-width="0.7"/>
<line x1="562.32" y1="283.94" x2="566.12" y2="286.07" stroke="#444" stroke-width="0.7"/>
<line x1="554.8" y1="274.28" x2="566.8" y2="281" stroke="#111" stroke-width="0.55"/>
<rect x="556.4" y="269.7" width="1.9" height="1.6" fill="#22cc44"/>
<rect x="563.4" y="275.03" width="1.9" height="1.6" fill="#22cc44"/>
<line x1="559.6" y1="274.76" x2="562.6" y2="273.64" stroke="#111" stroke-width="0.9"/>
<line x1="556.24" y1="273.58" x2="559.58" y2="275.46" stroke="#444" stroke-width="0.7"/>
<line x1="562.32" y1="275.89" x2="566.12" y2="278.02" stroke="#444" stroke-width="0.7"/>
<line x1="554.8" y1="266.22" x2="566.8" y2="272.94" stroke="#111" stroke-width="0.55"/>
<rect x="556.4" y="261.64" width="1.9" height="1.6" fill="#22cc44"/>
<rect x="563.4" y="266.98" width="1.9" height="1.6" fill="#22cc44"/>
<line x1="559.6" y1="266.71" x2="562.6" y2="265.59" stroke="#111" stroke-width="0.9"/>
<line x1="556.24" y1="265.53" x2="559.58" y2="267.4" stroke="#444" stroke-width="0.7"/>
<line x1="562.32" y1="267.83" x2="566.12" y2="269.96" stroke="#444" stroke-width="0.7"/>
<line x1="554.8" y1="258.16" x2="566.8" y2="264.88" stroke="#111" stroke-width="0.55"/>
<rect x="556.4" y="253.59" width="1.9" height="1.6" fill="#22cc44"/>
<rect x="563.4" y="258.92" width="1.9" height="1.6" fill="#22cc44"/>
<line x1="559.6" y1="258.65" x2="562.6" y2="257.53" stroke="#111" stroke-width="0.9"/>
<line x1="556.24" y1="257.47" x2="559.58" y2="259.34" stroke="#444" stroke-width="0.7"/>
<line x1="562.32" y1="259.78" x2="566.12" y2="261.9" stroke="#444" stroke-width="0.7"/>
<line x1="577" y1="287" x2="609.5" y2="307.5" stroke="#111" stroke-width="0.5"/>
<line x1="577" y1="290" x2="607" y2="309" stroke="#111" stroke-width="0.5"/>
<line x1="585" y1="266" x2="609" y2="252" stroke="#111" stroke-width="0.5"/>
<path d="M585,266.5 Q598,275 584,286" fill="none" stroke="#444" stroke-width="0.5"/>
<line x1="608.5" y1="312.5" x2="595" y2="306.6" stroke="#111" stroke-width="0.5"/>
<path d="M595,306.6 Q586.5,314 592,321.99" fill="none" stroke="#444" stroke-width="0.5"/>
<polygon points="447.4,349.6 493.4,375.36 504.9,368.71 504.9,355.11 458.9,329.35 447.4,336" fill="#fff" stroke="none" stroke-width="0"/>
<polygon points="447.4,336 493.4,361.76 504.9,355.11 458.9,329.35" fill="none" stroke="#111" stroke-width="0.55"/>
<line x1="447.4" y1="349.6" x2="447.4" y2="336" stroke="#111" stroke-width="0.55"/>
<line x1="493.4" y1="375.36" x2="493.4" y2="361.76" stroke="#111" stroke-width="0.55"/>
<line x1="504.9" y1="368.71" x2="504.9" y2="355.11" stroke="#111" stroke-width="0.55"/>
<polygon points="494,373.41 504.3,367.46 504.3,356.76 494,362.71" fill="#fff" stroke="#111" stroke-width="0.5"/>
<line x1="495.8" y1="373.97" x2="495.8" y2="372.37" stroke="#111" stroke-width="0.8"/>
<line x1="502.5" y1="370.1" x2="502.5" y2="368.5" stroke="#111" stroke-width="0.8"/>
<line x1="447.4" y1="337.1" x2="493.4" y2="362.86" stroke="#111" stroke-width="0.8"/>
<line x1="493.4" y1="362.86" x2="504.9" y2="356.21" stroke="#111" stroke-width="0.6"/>
<polygon points="447.7,348.97 450.5,350.54 450.5,339.04 447.7,337.47" fill="#d4d4d4" stroke="#444" stroke-width="0.45"/>
<line x1="447.1" y1="349.63" x2="451.1" y2="351.87" stroke="#111" stroke-width="0.9"/>
<polygon points="473.4,363.36 476.2,364.93 476.2,353.43 473.4,351.86" fill="#d4d4d4" stroke="#444" stroke-width="0.45"/>
<line x1="472.8" y1="364.02" x2="476.8" y2="366.26" stroke="#111" stroke-width="0.9"/>
<polygon points="489.8,372.54 492.6,374.11 492.6,362.61 489.8,361.04" fill="#d4d4d4" stroke="#444" stroke-width="0.45"/>
<line x1="489.2" y1="373.21" x2="493.2" y2="375.45" stroke="#111" stroke-width="0.9"/>
<line x1="447.4" y1="339" x2="493.4" y2="364.76" stroke="#111" stroke-width="0.5"/>
<line x1="447.4" y1="346.2" x2="493.4" y2="371.96" stroke="#111" stroke-width="0.55"/>
<line x1="447.4" y1="344.8" x2="493.4" y2="370.56" stroke="#111" stroke-width="0.55"/>
<line x1="464.7" y1="346.89" x2="464.7" y2="355.89" stroke="#111" stroke-width="0.9"/>
<line x1="466.2" y1="347.73" x2="466.2" y2="356.73" stroke="#444" stroke-width="0.5"/>
<polygon points="462.9,345.14 466.1,346.93 467.5,346.12 464.3,344.33" fill="#111" stroke="#111" stroke-width="0.3"/>
<polygon points="464.3,342.73 467.5,344.52 466.1,346.93 462.9,345.14" fill="#111" stroke="#111" stroke-width="0.3"/>
<line x1="482.7" y1="356.97" x2="482.7" y2="365.97" stroke="#111" stroke-width="0.9"/>
<line x1="484.2" y1="357.81" x2="484.2" y2="366.81" stroke="#444" stroke-width="0.5"/>
<polygon points="480.9,355.22 484.1,357.01 485.5,356.2 482.3,354.41" fill="#111" stroke="#111" stroke-width="0.3"/>
<polygon points="482.3,352.81 485.5,354.6 484.1,357.01 480.9,355.22" fill="#111" stroke="#111" stroke-width="0.3"/>
<polygon points="486.5,375.6 489.5,377.28 489.5,337.28 486.5,335.6" fill="#fff" stroke="#e8606e" stroke-width="0.5"/>
<polygon points="489.5,377.28 493.9,374.74 493.9,334.74 489.5,337.28" fill="#fff" stroke="#e8606e" stroke-width="0.5"/>
<polygon points="486.5,335.6 489.5,337.28 493.9,334.74 490.9,333.06" fill="#fff" stroke="#e8606e" stroke-width="0.5"/>
<polygon points="415,347.8 430.5,356.48 430.5,318.68 415,310" fill="#fff" stroke="#222" stroke-width="0.55"/>
<polygon points="430.5,356.48 438.1,352.09 438.1,314.29 430.5,318.68" fill="#fff" stroke="#222" stroke-width="0.55"/>
<polygon points="415,310 430.5,318.68 438.1,314.29 422.6,305.61" fill="#fff" stroke="#222" stroke-width="0.55"/>
<polygon points="415.8,347.25 429.7,355.03 429.7,319.23 415.8,311.45" fill="none" stroke="#111" stroke-width="0.7"/>
<polygon points="416.6,333.51 428.9,340.4 428.9,319.98 416.6,313.1" fill="#f4f4f4" stroke="#444" stroke-width="0.5"/>
<line x1="415.8" y1="334.26" x2="429.7" y2="342.05" stroke="#111" stroke-width="0.8"/>
<line x1="422.75" y1="351.14" x2="422.75" y2="315.34" stroke="#111" stroke-width="0.9"/>
<line x1="421.85" y1="336.45" x2="421.85" y2="316.04" stroke="#444" stroke-width="0.4"/>
<line x1="423.65" y1="337.46" x2="423.65" y2="317.04" stroke="#444" stroke-width="0.4"/>
<rect x="418.29" y="327.46" width="1.9" height="1.6" fill="#22cc44"/>
<rect x="425.42" y="333.29" width="1.9" height="1.6" fill="#22cc44"/>
<line x1="416.6" y1="323.3" x2="428.9" y2="330.19" stroke="#111" stroke-width="0.55"/>
<rect x="418.29" y="317.25" width="1.9" height="1.6" fill="#22cc44"/>
<rect x="425.42" y="323.08" width="1.9" height="1.6" fill="#22cc44"/>
<line x1="421.45" y1="340.43" x2="421.45" y2="343.93" stroke="#111" stroke-width="0.8"/>
<line x1="424.05" y1="341.88" x2="424.05" y2="345.38" stroke="#111" stroke-width="0.8"/>
<line x1="422.95" y1="331.27" x2="424.35" y2="328.55" stroke="#111" stroke-width="0.9"/>
<polygon points="430.5,356.48 446,365.16 446,327.36 430.5,318.68" fill="#fff" stroke="#222" stroke-width="0.55"/>
<polygon points="446,365.16 453.6,360.77 453.6,322.97 446,327.36" fill="#fff" stroke="#222" stroke-width="0.55"/>
<polygon points="430.5,318.68 446,327.36 453.6,322.97 438.1,314.29" fill="#fff" stroke="#222" stroke-width="0.55"/>
<polygon points="431.3,355.93 445.2,363.71 445.2,327.91 431.3,320.13" fill="none" stroke="#111" stroke-width="0.7"/>
<polygon points="432.1,354.29 444.4,361.17 444.4,328.66 432.1,321.78" fill="#ececec" stroke="#444" stroke-width="0.5"/>
<line x1="431.3" y1="355.04" x2="445.2" y2="362.82" stroke="#111" stroke-width="0.8"/>
<line x1="438.25" y1="359.82" x2="438.25" y2="324.02" stroke="#111" stroke-width="0.9"/>
<line x1="437.35" y1="357.23" x2="437.35" y2="324.72" stroke="#444" stroke-width="0.4"/>
<line x1="439.15" y1="358.23" x2="439.15" y2="325.72" stroke="#444" stroke-width="0.4"/>
<line x1="437.05" y1="354.86" x2="440.05" y2="353.74" stroke="#111" stroke-width="0.9"/>
<line x1="433.6" y1="353.63" x2="437.01" y2="355.54" stroke="#444" stroke-width="0.7"/>
<line x1="439.8" y1="356" x2="443.68" y2="358.17" stroke="#444" stroke-width="0.7"/>
<line x1="432.1" y1="346.16" x2="444.4" y2="353.05" stroke="#111" stroke-width="0.55"/>
<rect x="433.79" y="341.58" width="1.9" height="1.6" fill="#22cc44"/>
<rect x="440.92" y="347.01" width="1.9" height="1.6" fill="#22cc44"/>
<line x1="437.05" y1="346.73" x2="440.05" y2="345.61" stroke="#111" stroke-width="0.9"/>
<line x1="433.6" y1="345.5" x2="437.01" y2="347.41" stroke="#444" stroke-width="0.7"/>
<line x1="439.8" y1="347.87" x2="443.68" y2="350.04" stroke="#444" stroke-width="0.7"/>
<line x1="432.1" y1="338.03" x2="444.4" y2="344.92" stroke="#111" stroke-width="0.55"/>
<rect x="433.79" y="333.45" width="1.9" height="1.6" fill="#22cc44"/>
<rect x="440.92" y="338.88" width="1.9" height="1.6" fill="#22cc44"/>
<line x1="437.05" y1="338.6" x2="440.05" y2="337.48" stroke="#111" stroke-width="0.9"/>
<line x1="433.6" y1="337.37" x2="437.01" y2="339.28" stroke="#444" stroke-width="0.7"/>
<line x1="439.8" y1="339.74" x2="443.68" y2="341.91" stroke="#444" stroke-width="0.7"/>
<line x1="432.1" y1="329.9" x2="444.4" y2="336.79" stroke="#111" stroke-width="0.55"/>
<rect x="433.79" y="325.33" width="1.9" height="1.6" fill="#22cc44"/>
<rect x="440.92" y="330.75" width="1.9" height="1.6" fill="#22cc44"/>
<line x1="437.05" y1="330.48" x2="440.05" y2="329.36" stroke="#111" stroke-width="0.9"/>
<line x1="433.6" y1="329.24" x2="437.01" y2="331.15" stroke="#444" stroke-width="0.7"/>
<line x1="439.8" y1="331.62" x2="443.68" y2="333.79" stroke="#444" stroke-width="0.7"/>
<polygon points="350.2,380.3 400.8,408.64 426.4,393.84 426.4,379.64 375.8,351.3 350.2,366.1" fill="#fff" stroke="none" stroke-width="0"/>
<polygon points="350.2,366.1 400.8,394.44 426.4,379.64 375.8,351.3" fill="none" stroke="#111" stroke-width="0.55"/>
<line x1="350.2" y1="380.3" x2="350.2" y2="366.1" stroke="#111" stroke-width="0.55"/>
<line x1="400.8" y1="408.64" x2="400.8" y2="394.44" stroke="#111" stroke-width="0.55"/>
<line x1="426.4" y1="393.84" x2="426.4" y2="379.64" stroke="#111" stroke-width="0.55"/>
<line x1="400.8" y1="408.64" x2="426.4" y2="393.84" stroke="#111" stroke-width="0.5"/>
<line x1="350.2" y1="367.4" x2="400.8" y2="395.74" stroke="#111" stroke-width="0.5"/>
<line x1="400.8" y1="395.74" x2="426.4" y2="380.94" stroke="#111" stroke-width="0.5"/>
<polygon points="350.9,378.99 357.9,382.91 357.9,372.41 350.9,368.49" fill="none" stroke="#111" stroke-width="0.55"/>
<line x1="350.9" y1="371.49" x2="357.9" y2="375.41" stroke="#444" stroke-width="0.4"/>
<line x1="353" y1="374.27" x2="353" y2="376.67" stroke="#111" stroke-width="0.7"/>
<line x1="350.9" y1="379.19" x2="350.9" y2="367.89" stroke="#111" stroke-width="0.9"/>
<line x1="350.9" y1="378.99" x2="350.9" y2="380.49" stroke="#111" stroke-width="0.6"/>
<polygon points="358.9,383.47 373.9,391.87 373.9,381.37 358.9,372.97" fill="none" stroke="#111" stroke-width="0.55"/>
<line x1="358.9" y1="375.97" x2="373.9" y2="384.37" stroke="#444" stroke-width="0.4"/>
<line x1="366.4" y1="381.77" x2="366.4" y2="384.17" stroke="#111" stroke-width="0.7"/>
<line x1="362.2" y1="376.12" x2="364.3" y2="377.3" stroke="#111" stroke-width="0.55"/>
<line x1="368.5" y1="379.65" x2="370.6" y2="380.82" stroke="#111" stroke-width="0.55"/>
<line x1="366.4" y1="377.17" x2="366.4" y2="380.17" stroke="#444" stroke-width="0.4"/>
<line x1="358.9" y1="383.67" x2="358.9" y2="372.37" stroke="#111" stroke-width="0.9"/>
<line x1="358.9" y1="383.47" x2="358.9" y2="384.97" stroke="#111" stroke-width="0.6"/>
<polygon points="374.9,392.43 389.9,400.83 389.9,390.33 374.9,381.93" fill="none" stroke="#111" stroke-width="0.55"/>
<line x1="374.9" y1="384.93" x2="389.9" y2="393.33" stroke="#444" stroke-width="0.4"/>
<line x1="382.4" y1="390.73" x2="382.4" y2="393.13" stroke="#111" stroke-width="0.7"/>
<line x1="378.2" y1="385.08" x2="380.3" y2="386.26" stroke="#111" stroke-width="0.55"/>
<line x1="384.5" y1="388.61" x2="386.6" y2="389.78" stroke="#111" stroke-width="0.55"/>
<line x1="382.4" y1="386.13" x2="382.4" y2="389.13" stroke="#444" stroke-width="0.4"/>
<line x1="374.9" y1="392.63" x2="374.9" y2="381.33" stroke="#111" stroke-width="0.9"/>
<line x1="374.9" y1="392.43" x2="374.9" y2="393.93" stroke="#111" stroke-width="0.6"/>
<polygon points="390.9,401.39 400.1,406.54 400.1,396.04 390.9,390.89" fill="none" stroke="#111" stroke-width="0.55"/>
<line x1="390.9" y1="393.89" x2="400.1" y2="399.04" stroke="#444" stroke-width="0.4"/>
<line x1="393.66" y1="397.04" x2="393.66" y2="399.44" stroke="#111" stroke-width="0.7"/>
<line x1="390.9" y1="401.59" x2="390.9" y2="390.29" stroke="#111" stroke-width="0.9"/>
<line x1="390.9" y1="401.39" x2="390.9" y2="402.89" stroke="#111" stroke-width="0.6"/>
<polygon points="425.6,394.3 425.6,381.4 423.8,382.44 423.8,395.34" fill="#ddd" stroke="#444" stroke-width="0.45"/>
<line x1="409.33" y1="402.5" x2="409.33" y2="390.8" stroke="#111" stroke-width="0.6"/>
<line x1="417.87" y1="397.57" x2="417.87" y2="385.87" stroke="#111" stroke-width="0.6"/>
<line x1="401.8" y1="406.66" x2="425.4" y2="393.02" stroke="#111" stroke-width="0.5"/>
<polygon points="361.9,352.82 411.1,380.37 411.1,378.37 361.9,350.82" fill="#fff" stroke="#111" stroke-width="0.55"/>
<polygon points="411.1,380.37 414.5,378.41 414.5,376.41 411.1,378.37" fill="#fff" stroke="#111" stroke-width="0.55"/>
<polygon points="361.9,350.82 411.1,378.37 414.5,376.41 365.3,348.86" fill="#fff" stroke="#111" stroke-width="0.55"/>
<polygon points="361.9,346.42 411.1,373.97 411.1,371.97 361.9,344.42" fill="#fff" stroke="#111" stroke-width="0.55"/>
<polygon points="411.1,373.97 414.5,372.01 414.5,370.01 411.1,371.97" fill="#fff" stroke="#111" stroke-width="0.55"/>
<polygon points="361.9,344.42 411.1,371.97 414.5,370.01 365.3,342.46" fill="#fff" stroke="#111" stroke-width="0.55"/>
<polygon points="362,359.96 363.8,360.97 363.8,345.57 362,344.56" fill="#999" stroke="#111" stroke-width="0.6"/>
<polygon points="363.8,360.97 365.8,359.81 365.8,344.41 363.8,345.57" fill="#ccc" stroke="#111" stroke-width="0.5"/>
<polygon points="385.7,373.23 387.5,374.24 387.5,366.84 385.7,365.83" fill="#999" stroke="#111" stroke-width="0.6"/>
<polygon points="387.5,374.24 389.5,373.09 389.5,365.69 387.5,366.84" fill="#ccc" stroke="#111" stroke-width="0.5"/>
<polygon points="409.4,386.51 411.2,387.51 411.2,372.11 409.4,371.11" fill="#999" stroke="#111" stroke-width="0.6"/>
<polygon points="411.2,387.51 413.2,386.36 413.2,370.96 411.2,372.11" fill="#ccc" stroke="#111" stroke-width="0.5"/>
<polygon points="271,391 364.5,443.36 379.5,434.69 379.5,419.69 286,367.33 271,376" fill="#fff" stroke="none" stroke-width="0"/>
<polygon points="271,376 364.5,428.36 379.5,419.69 286,367.33" fill="none" stroke="#111" stroke-width="0.55"/>
<line x1="271" y1="391" x2="271" y2="376" stroke="#111" stroke-width="0.55"/>
<line x1="364.5" y1="443.36" x2="364.5" y2="428.36" stroke="#111" stroke-width="0.55"/>
<line x1="379.5" y1="434.69" x2="379.5" y2="419.69" stroke="#111" stroke-width="0.55"/>
<polygon points="365.1,441.41 378.9,433.44 378.9,421.34 365.1,429.31" fill="#fff" stroke="#111" stroke-width="0.5"/>
<line x1="366.9" y1="441.97" x2="366.9" y2="440.37" stroke="#111" stroke-width="0.8"/>
<line x1="377.1" y1="436.08" x2="377.1" y2="434.48" stroke="#111" stroke-width="0.8"/>
<line x1="271" y1="377.1" x2="364.5" y2="429.46" stroke="#111" stroke-width="0.8"/>
<line x1="364.5" y1="429.46" x2="379.5" y2="420.79" stroke="#111" stroke-width="0.6"/>
<polygon points="271.3,390.37 274.1,391.94 274.1,379.04 271.3,377.47" fill="#d4d4d4" stroke="#444" stroke-width="0.45"/>
<line x1="270.7" y1="391.03" x2="274.7" y2="393.27" stroke="#111" stroke-width="0.9"/>
<polygon points="283.5,397.2 286.3,398.77 286.3,385.87 283.5,384.3" fill="#d4d4d4" stroke="#444" stroke-width="0.45"/>
<line x1="282.9" y1="397.86" x2="286.9" y2="400.1" stroke="#111" stroke-width="0.9"/>
<polygon points="316.5,415.68 319.3,417.25 319.3,404.35 316.5,402.78" fill="#d4d4d4" stroke="#444" stroke-width="0.45"/>
<line x1="315.9" y1="416.34" x2="319.9" y2="418.58" stroke="#111" stroke-width="0.9"/>
<polygon points="334,425.48 336.8,427.05 336.8,414.15 334,412.58" fill="#d4d4d4" stroke="#444" stroke-width="0.45"/>
<line x1="333.4" y1="426.14" x2="337.4" y2="428.38" stroke="#111" stroke-width="0.9"/>
<polygon points="351.5,435.28 354.3,436.85 354.3,423.95 351.5,422.38" fill="#d4d4d4" stroke="#444" stroke-width="0.45"/>
<line x1="350.9" y1="435.94" x2="354.9" y2="438.18" stroke="#111" stroke-width="0.9"/>
<line x1="271" y1="379" x2="364.5" y2="431.36" stroke="#111" stroke-width="0.5"/>
<line x1="271" y1="387.6" x2="364.5" y2="439.96" stroke="#111" stroke-width="0.55"/>
<line x1="271" y1="386.2" x2="364.5" y2="438.56" stroke="#111" stroke-width="0.55"/>
<line x1="308.5" y1="398.2" x2="308.5" y2="408.6" stroke="#111" stroke-width="0.9"/>
<line x1="310" y1="399.04" x2="310" y2="409.44" stroke="#444" stroke-width="0.5"/>
<polygon points="306.7,396.45 309.9,398.24 311.3,397.43 308.1,395.64" fill="#111" stroke="#111" stroke-width="0.3"/>
<polygon points="308.1,394.04 311.3,395.83 309.9,398.24 306.7,396.45" fill="#111" stroke="#111" stroke-width="0.3"/>
<line x1="325.4" y1="407.66" x2="325.4" y2="418.06" stroke="#111" stroke-width="0.9"/>
<line x1="326.9" y1="408.5" x2="326.9" y2="418.9" stroke="#444" stroke-width="0.5"/>
<polygon points="323.6,405.91 326.8,407.7 328.2,406.89 325,405.1" fill="#111" stroke="#111" stroke-width="0.3"/>
<polygon points="325,403.5 328.2,405.29 326.8,407.7 323.6,405.91" fill="#111" stroke="#111" stroke-width="0.3"/>
<line x1="342.7" y1="417.35" x2="342.7" y2="427.75" stroke="#111" stroke-width="0.9"/>
<line x1="344.2" y1="418.19" x2="344.2" y2="428.59" stroke="#444" stroke-width="0.5"/>
<polygon points="340.9,415.6 344.1,417.39 345.5,416.58 342.3,414.79" fill="#111" stroke="#111" stroke-width="0.3"/>
<polygon points="342.3,413.19 345.5,414.98 344.1,417.39 340.9,415.6" fill="#111" stroke="#111" stroke-width="0.3"/>
<line x1="359.9" y1="426.98" x2="359.9" y2="437.38" stroke="#111" stroke-width="0.9"/>
<line x1="361.4" y1="427.82" x2="361.4" y2="438.22" stroke="#444" stroke-width="0.5"/>
<polygon points="358.1,425.23 361.3,427.02 362.7,426.21 359.5,424.42" fill="#111" stroke="#111" stroke-width="0.3"/>
<polygon points="359.5,422.82 362.7,424.61 361.3,427.02 358.1,425.23" fill="#111" stroke="#111" stroke-width="0.3"/>
<polygon points="289.5,377.8 294.3,375 294.3,389.5 289.5,392.3" fill="#fff" stroke="#111" stroke-width="0.6"/>
<polygon points="294.3,375 295.5,375.7 295.5,390.2 294.3,389.5" fill="#ccc" stroke="#111" stroke-width="0.5"/>
<polyline points="296.7,388.3 296.7,382.3 299.3,381 301.7,383.2" fill="none" stroke="#111" stroke-width="1"/>
<circle cx="298.3" cy="384.2" r="1.2" fill="#111"/>
<polygon points="298.7,387.3 304.2,390.3 301.7,391.8 296.2,388.8" fill="none" stroke="#111" stroke-width="0.5"/>
<polygon points="364.1,446.6 367.3,448.39 367.3,406.89 364.1,405.1" fill="#fff" stroke="#e8606e" stroke-width="0.5"/>
<polygon points="367.3,448.39 371.9,445.73 371.9,404.23 367.3,406.89" fill="#fff" stroke="#e8606e" stroke-width="0.5"/>
<polygon points="364.1,405.1 367.3,406.89 371.9,404.23 368.7,402.44" fill="#fff" stroke="#e8606e" stroke-width="0.5"/>
<line x1="440" y1="353.7" x2="483.6" y2="382.1" stroke="#111" stroke-width="0.5"/>
<line x1="442.5" y1="352.3" x2="486" y2="380.6" stroke="#111" stroke-width="0.5"/>
<line x1="485" y1="383.84" x2="470.2" y2="377.4" stroke="#111" stroke-width="0.5"/>
<path d="M470.2,377.4 Q462.5,384 466.2,392.4" fill="none" stroke="#444" stroke-width="0.5"/>
<text x="384.9" y="123.09" font-size="3.96" fill="#000" text-anchor="middle" font-weight="bold" font-family="&quot;Liberation Sans&quot;,&quot;Noto Sans CJK SC&quot;,sans-serif" transform="rotate(-30.03 384.9 123.09)" stroke="#000" stroke-width="0.18">气瓶柜、排风</text>
<line x1="392.4" y1="147.3" x2="445.7" y2="177.1" stroke="#4040e0" stroke-width="0.5"/>
<line x1="390.9" y1="148.17" x2="393.9" y2="146.43" stroke="#4040e0" stroke-width="0.5"/>
<line x1="444.2" y1="177.97" x2="447.2" y2="176.23" stroke="#4040e0" stroke-width="0.5"/>
<text x="418" y="165.98" font-size="4.22" fill="#000" text-anchor="middle" font-weight="bold" font-family="&quot;Liberation Sans&quot;,&quot;Noto Sans CJK SC&quot;,sans-serif" transform="rotate(29.25 418 165.98)" stroke="#000" stroke-width="0.18">3200</text>
<text x="399.9" y="166.79" font-size="3.96" fill="#000" text-anchor="middle" font-weight="bold" font-family="&quot;Liberation Sans&quot;,&quot;Noto Sans CJK SC&quot;,sans-serif" transform="rotate(-30.03 399.9 166.79)" stroke="#000" stroke-width="0.18">液相色谱仪</text>
<text x="422.3" y="179.59" font-size="3.96" fill="#000" text-anchor="middle" font-weight="bold" font-family="&quot;Liberation Sans&quot;,&quot;Noto Sans CJK SC&quot;,sans-serif" transform="rotate(-30.03 422.3 179.59)" stroke="#000" stroke-width="0.18">气相色谱仪</text>
<line x1="453.2" y1="113.1" x2="505.5" y2="143" stroke="#4040e0" stroke-width="0.5"/>
<line x1="451.7" y1="113.97" x2="454.7" y2="112.23" stroke="#4040e0" stroke-width="0.5"/>
<line x1="504" y1="143.87" x2="507" y2="142.13" stroke="#4040e0" stroke-width="0.5"/>
<text x="476.7" y="130.78" font-size="4.22" fill="#000" text-anchor="middle" font-weight="bold" font-family="&quot;Liberation Sans&quot;,&quot;Noto Sans CJK SC&quot;,sans-serif" transform="rotate(29.25 476.7 130.78)" stroke="#000" stroke-width="0.18">3200</text>
<text x="454.3" y="123.99" font-size="3.7" fill="#000" text-anchor="middle" font-weight="bold" font-family="&quot;Liberation Sans&quot;,&quot;Noto Sans CJK SC&quot;,sans-serif" transform="rotate(-30.03 454.3 123.99)" stroke="#000" stroke-width="0.18">原子吸收</text>
<text x="456.4" y="128.29" font-size="3.7" fill="#000" text-anchor="middle" font-weight="bold" font-family="&quot;Liberation Sans&quot;,&quot;Noto Sans CJK SC&quot;,sans-serif" transform="rotate(-30.03 456.4 128.29)" stroke="#000" stroke-width="0.18">分光光度</text>
<text x="483.1" y="142.19" font-size="3.7" fill="#000" text-anchor="middle" font-weight="bold" font-family="&quot;Liberation Sans&quot;,&quot;Noto Sans CJK SC&quot;,sans-serif" transform="rotate(-30.03 483.1 142.19)" stroke="#000" stroke-width="0.18">原子荧光</text>
<text x="485.2" y="147.09" font-size="3.7" fill="#000" text-anchor="middle" font-weight="bold" font-family="&quot;Liberation Sans&quot;,&quot;Noto Sans CJK SC&quot;,sans-serif" transform="rotate(-30.03 485.2 147.09)" stroke="#000" stroke-width="0.18">分光光度</text>
<line x1="479.5" y1="85.7" x2="573.5" y2="139.5" stroke="#3c3cdc" stroke-width="0.5"/>
<line x1="573.5" y1="139.5" x2="565" y2="144.4" stroke="#3c3cdc" stroke-width="0.5"/>
<text x="524.3" y="112.88" font-size="4.22" fill="#000" text-anchor="middle" font-weight="bold" font-family="&quot;Liberation Sans&quot;,&quot;Noto Sans CJK SC&quot;,sans-serif" transform="rotate(29.25 524.3 112.88)" stroke="#000" stroke-width="0.18">2125</text>
<line x1="463" y1="214.6" x2="570.4" y2="152.8" stroke="#3c3cdc" stroke-width="0.5"/>
<line x1="570.4" y1="152.8" x2="566" y2="150.4" stroke="#3c3cdc" stroke-width="0.5"/>
<text x="510" y="188.77" font-size="4.49" fill="#000" text-anchor="middle" font-weight="bold" font-family="&quot;Liberation Sans&quot;,&quot;Noto Sans CJK SC&quot;,sans-serif" transform="rotate(-30.03 510 188.77)" stroke="#000" stroke-width="0.18">6600</text>
<line x1="505.4" y1="244.2" x2="562.9" y2="212" stroke="#3c3cdc" stroke-width="0.5"/>
<line x1="562.9" y1="212" x2="565.2" y2="213.4" stroke="#3c3cdc" stroke-width="0.5"/>
<line x1="505.4" y1="244.2" x2="511.8" y2="248" stroke="#3c3cdc" stroke-width="0.5"/>
<text x="532.8" y="228.17" font-size="4.49" fill="#000" text-anchor="middle" font-weight="bold" font-family="&quot;Liberation Sans&quot;,&quot;Noto Sans CJK SC&quot;,sans-serif" transform="rotate(-30.03 532.8 228.17)" stroke="#000" stroke-width="0.18">2275</text>
<line x1="562" y1="221.5" x2="612" y2="249.4" stroke="#3c3cdc" stroke-width="0.5"/>
<text x="573" y="231.7" font-size="3.43" fill="#000" text-anchor="middle" font-weight="bold" font-family="&quot;Liberation Sans&quot;,&quot;Noto Sans CJK SC&quot;,sans-serif" transform="rotate(29.25 573 231.7)" stroke="#000" stroke-width="0.18">1500</text>
<text x="588.5" y="240.6" font-size="3.43" fill="#000" text-anchor="middle" font-weight="bold" font-family="&quot;Liberation Sans&quot;,&quot;Noto Sans CJK SC&quot;,sans-serif" transform="rotate(29.25 588.5 240.6)" stroke="#000" stroke-width="0.18">1500</text>
<text x="603.5" y="249.2" font-size="3.43" fill="#000" text-anchor="middle" font-weight="bold" font-family="&quot;Liberation Sans&quot;,&quot;Noto Sans CJK SC&quot;,sans-serif" transform="rotate(29.25 603.5 249.2)" stroke="#000" stroke-width="0.18">1500</text>
<line x1="617" y1="261" x2="657" y2="283.4" stroke="#3c3cdc" stroke-width="0.5"/>
<line x1="657" y1="283.4" x2="681" y2="269.8" stroke="#3c3cdc" stroke-width="0.5"/>
<line x1="663" y1="259.6" x2="682" y2="270.2" stroke="#3c3cdc" stroke-width="0.5"/>
<text x="630" y="271.69" font-size="3.7" fill="#000" text-anchor="middle" font-weight="bold" font-family="&quot;Liberation Sans&quot;,&quot;Noto Sans CJK SC&quot;,sans-serif" transform="rotate(29.25 630 271.69)" stroke="#000" stroke-width="0.18">1500</text>
<text x="647" y="281.69" font-size="3.7" fill="#000" text-anchor="middle" font-weight="bold" font-family="&quot;Liberation Sans&quot;,&quot;Noto Sans CJK SC&quot;,sans-serif" transform="rotate(29.25 647 281.69)" stroke="#000" stroke-width="0.18">1000</text>
<text x="620" y="284.48" font-size="4.22" fill="#000" text-anchor="middle" font-weight="bold" font-family="&quot;Liberation Sans&quot;,&quot;Noto Sans CJK SC&quot;,sans-serif" transform="rotate(29.25 620 284.48)" stroke="#000" stroke-width="0.18">气瓶</text>
<line x1="534.5" y1="277.5" x2="566" y2="295" stroke="#3c3cdc" stroke-width="0.5"/>
<text x="541.5" y="286.8" font-size="3.43" fill="#000" text-anchor="middle" font-weight="bold" font-family="&quot;Liberation Sans&quot;,&quot;Noto Sans CJK SC&quot;,sans-serif" transform="rotate(29.25 541.5 286.8)" stroke="#000" stroke-width="0.18">1500</text>
<text x="556.5" y="295.2" font-size="3.43" fill="#000" text-anchor="middle" font-weight="bold" font-family="&quot;Liberation Sans&quot;,&quot;Noto Sans CJK SC&quot;,sans-serif" transform="rotate(29.25 556.5 295.2)" stroke="#000" stroke-width="0.18">1500</text>
<line x1="472.3" y1="294.8" x2="440" y2="313.5" stroke="#3c3cdc" stroke-width="0.5"/>
<line x1="527" y1="325.5" x2="551" y2="312" stroke="#3c3cdc" stroke-width="0.5"/>
<line x1="551" y1="312" x2="556" y2="314.8" stroke="#3c3cdc" stroke-width="0.5"/>
<line x1="556" y1="321.5" x2="552" y2="324" stroke="#3c3cdc" stroke-width="0.5"/>
<text x="540" y="317.4" font-size="3.43" fill="#000" text-anchor="middle" font-weight="bold" font-family="&quot;Liberation Sans&quot;,&quot;Noto Sans CJK SC&quot;,sans-serif" transform="rotate(-30.03 540 317.4)" stroke="#000" stroke-width="0.18">1500</text>
<text x="456.1" y="309.64" font-size="3.83" fill="#000" text-anchor="middle" font-weight="bold" font-family="&quot;Liberation Sans&quot;,&quot;Noto Sans CJK SC&quot;,sans-serif" transform="rotate(-30.03 456.1 309.64)" stroke="#000" stroke-width="0.18">超净工作</text>
<text x="460.4" y="313.54" font-size="3.83" fill="#000" text-anchor="middle" font-weight="bold" font-family="&quot;Liberation Sans&quot;,&quot;Noto Sans CJK SC&quot;,sans-serif" transform="rotate(-30.03 460.4 313.54)" stroke="#000" stroke-width="0.18">台(双人)</text>
<text x="467.4" y="328.49" font-size="3.96" fill="#000" text-anchor="middle" font-weight="bold" font-family="&quot;Liberation Sans&quot;,&quot;Noto Sans CJK SC&quot;,sans-serif" transform="rotate(-30.03 467.4 328.49)" stroke="#000" stroke-width="0.18">通风柜</text>
<text x="481.4" y="336.59" font-size="3.96" fill="#000" text-anchor="middle" font-weight="bold" font-family="&quot;Liberation Sans&quot;,&quot;Noto Sans CJK SC&quot;,sans-serif" transform="rotate(-30.03 481.4 336.59)" stroke="#000" stroke-width="0.18">器皿柜</text>
<text x="499.7" y="345.49" font-size="3.7" fill="#000" text-anchor="middle" font-weight="bold" font-family="&quot;Liberation Sans&quot;,&quot;Noto Sans CJK SC&quot;,sans-serif" transform="rotate(-30.03 499.7 345.49)" stroke="#000" stroke-width="0.18">边台(1)</text>
<text x="508.6" y="360.09" font-size="3.7" fill="#000" text-anchor="middle" font-weight="bold" font-family="&quot;Liberation Sans&quot;,&quot;Noto Sans CJK SC&quot;,sans-serif" transform="rotate(-30.03 508.6 360.09)" stroke="#000" stroke-width="0.18">天平台</text>
<line x1="503" y1="358" x2="510.5" y2="362.3" stroke="#3c3cdc" stroke-width="0.5"/>
<text x="511.5" y="283.89" font-size="3.7" fill="#000" text-anchor="middle" font-weight="bold" font-family="&quot;Liberation Sans&quot;,&quot;Noto Sans CJK SC&quot;,sans-serif" transform="rotate(-30.03 511.5 283.89)" stroke="#000" stroke-width="0.18">水池</text>
<line x1="499" y1="262" x2="513" y2="254" stroke="#3c3cdc" stroke-width="0.5"/>
<text x="343.2" y="376.39" font-size="3.96" fill="#000" text-anchor="middle" font-weight="bold" font-family="&quot;Liberation Sans&quot;,&quot;Noto Sans CJK SC&quot;,sans-serif" transform="rotate(-30.03 343.2 376.39)" stroke="#000" stroke-width="0.18">仪器台</text>
<text x="395.8" y="345.09" font-size="3.96" fill="#000" text-anchor="middle" font-weight="bold" font-family="&quot;Liberation Sans&quot;,&quot;Noto Sans CJK SC&quot;,sans-serif" transform="rotate(-30.03 395.8 345.09)" stroke="#000" stroke-width="0.18">仪器台</text>
<line x1="376.5" y1="350.2" x2="405.4" y2="333.3" stroke="#3c3cdc" stroke-width="0.5"/>
<line x1="315" y1="385.5" x2="349.7" y2="365.5" stroke="#3c3cdc" stroke-width="0.5"/>
<line x1="411.8" y1="349.4" x2="442.3" y2="366.2" stroke="#3c3cdc" stroke-width="0.5"/>
<text x="417.4" y="355.8" font-size="3.43" fill="#000" text-anchor="middle" font-weight="bold" font-family="&quot;Liberation Sans&quot;,&quot;Noto Sans CJK SC&quot;,sans-serif" transform="rotate(29.25 417.4 355.8)" stroke="#000" stroke-width="0.18">1500</text>
<text x="432.7" y="364.4" font-size="3.43" fill="#000" text-anchor="middle" font-weight="bold" font-family="&quot;Liberation Sans&quot;,&quot;Noto Sans CJK SC&quot;,sans-serif" transform="rotate(29.25 432.7 364.4)" stroke="#000" stroke-width="0.18">1500</text>
<line x1="403.5" y1="396.5" x2="429" y2="382" stroke="#3c3cdc" stroke-width="0.5"/>
<line x1="429" y1="382" x2="434" y2="384.8" stroke="#3c3cdc" stroke-width="0.5"/>
<line x1="434" y1="391.5" x2="430" y2="394" stroke="#3c3cdc" stroke-width="0.5"/>
<text x="417" y="387.7" font-size="3.43" fill="#000" text-anchor="middle" font-weight="bold" font-family="&quot;Liberation Sans&quot;,&quot;Noto Sans CJK SC&quot;,sans-serif" transform="rotate(-30.03 417 387.7)" stroke="#000" stroke-width="0.18">1500</text>
<line x1="261.4" y1="397.5" x2="360" y2="452.8" stroke="#3c3cdc" stroke-width="0.5"/>
<line x1="261.4" y1="397.5" x2="271" y2="392" stroke="#3c3cdc" stroke-width="0.5"/>
<line x1="360" y1="452.8" x2="366" y2="449.4" stroke="#3c3cdc" stroke-width="0.5"/>
<text x="308" y="428.97" font-size="4.49" fill="#000" text-anchor="middle" font-weight="bold" font-family="&quot;Liberation Sans&quot;,&quot;Noto Sans CJK SC&quot;,sans-serif" transform="rotate(29.25 308 428.97)" stroke="#000" stroke-width="0.18">4125</text>
<line x1="259" y1="388" x2="271.5" y2="381" stroke="#3c3cdc" stroke-width="0.5"/>
<line x1="259" y1="388" x2="263" y2="390.2" stroke="#3c3cdc" stroke-width="0.5"/>
<text x="444.7" y="423.36" font-size="4.75" fill="#000" text-anchor="middle" font-weight="bold" font-family="&quot;Liberation Sans&quot;,&quot;Noto Sans CJK SC&quot;,sans-serif" transform="rotate(-30.03 444.7 423.36)" stroke="#000" stroke-width="0.18">理化室</text>
<text x="566" y="354.16" font-size="4.75" fill="#000" text-anchor="middle" font-weight="bold" font-family="&quot;Liberation Sans&quot;,&quot;Noto Sans CJK SC&quot;,sans-serif" transform="rotate(-30.03 566 354.16)" stroke="#000" stroke-width="0.18">特殊性能检测室</text>
<text x="385.6" y="432.4" font-size="3.43" fill="#000" text-anchor="middle" font-weight="bold" font-family="&quot;Liberation Sans&quot;,&quot;Noto Sans CJK SC&quot;,sans-serif" transform="rotate(-30.03 385.6 432.4)" stroke="#000" stroke-width="0.18">PC</text>
<line x1="381" y1="425.8" x2="388" y2="429.8" stroke="#3c3cdc" stroke-width="0.5"/>
<text x="322.4" y="388.02" font-size="2.9" fill="#000" text-anchor="middle" font-weight="bold" font-family="&quot;Liberation Sans&quot;,&quot;Noto Sans CJK SC&quot;,sans-serif" transform="rotate(-30.03 322.4 388.02)" stroke="#000" stroke-width="0.18">PC</text>
<line x1="304.5" y1="221.5" x2="338" y2="240.3" stroke="#3c3cdc" stroke-width="0.5"/>
<line x1="304.5" y1="221.5" x2="307" y2="220" stroke="#3c3cdc" stroke-width="0.5"/>
<text x="309.2" y="227.5" font-size="3.43" fill="#000" text-anchor="middle" font-weight="bold" font-family="&quot;Liberation Sans&quot;,&quot;Noto Sans CJK SC&quot;,sans-serif" transform="rotate(29.25 309.2 227.5)" stroke="#000" stroke-width="0.18">1500</text>
<text x="325.8" y="236.8" font-size="3.43" fill="#000" text-anchor="middle" font-weight="bold" font-family="&quot;Liberation Sans&quot;,&quot;Noto Sans CJK SC&quot;,sans-serif" transform="rotate(29.25 325.8 236.8)" stroke="#000" stroke-width="0.18">1500</text>
</svg>
</body></html>
